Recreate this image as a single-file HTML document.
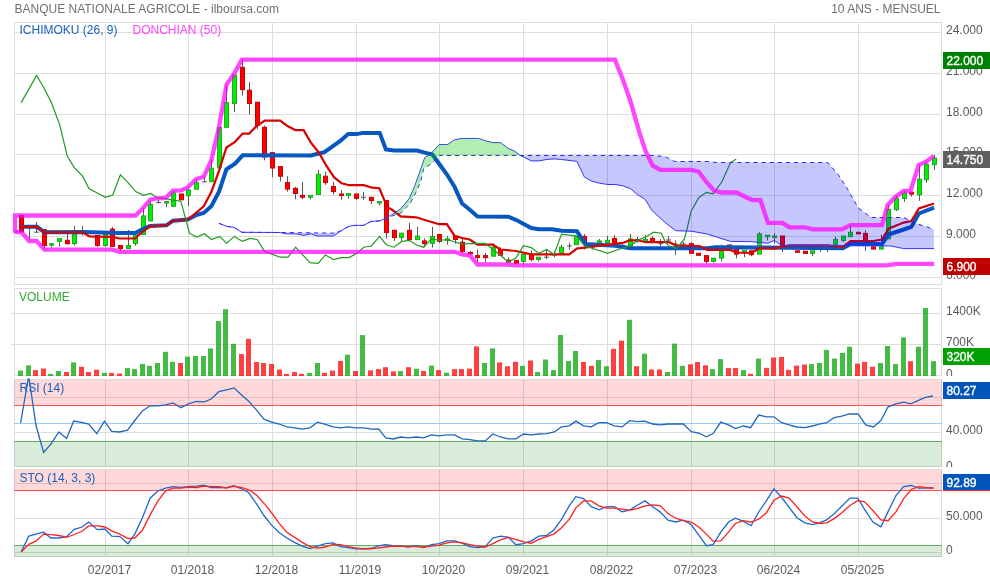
<!DOCTYPE html><html><head><meta charset="utf-8"><style>
html,body{margin:0;padding:0;background:#fff;width:990px;height:580px;overflow:hidden}
svg{display:block;will-change:transform}
text{font-family:"Liberation Sans",sans-serif;font-size:12px}
</style></head><body>
<svg width="990" height="580" viewBox="0 0 990 580">
<text x="14.5" y="13" fill="#707070">BANQUE NATIONALE AGRICOLE - ilboursa.com</text>
<text x="940.5" y="13" fill="#707070" text-anchor="end">10 ANS - MENSUEL</text>
<defs>
<clipPath id="cm"><rect x="13" y="23" width="928" height="261"/></clipPath>
<clipPath id="cv"><rect x="15" y="289" width="926" height="87"/></clipPath>
<clipPath id="cr"><rect x="15" y="378" width="926" height="88"/></clipPath>
<clipPath id="cs"><rect x="15" y="470" width="926" height="86"/></clipPath>
</defs>
<line x1="14" y1="32.5" x2="942" y2="32.5" stroke="#dddddd" stroke-width="1"/><line x1="14" y1="73.5" x2="942" y2="73.5" stroke="#dddddd" stroke-width="1"/><line x1="14" y1="114.5" x2="942" y2="114.5" stroke="#dddddd" stroke-width="1"/><line x1="14" y1="154.5" x2="942" y2="154.5" stroke="#dddddd" stroke-width="1"/><line x1="14" y1="195.5" x2="942" y2="195.5" stroke="#dddddd" stroke-width="1"/><line x1="14" y1="236.5" x2="942" y2="236.5" stroke="#dddddd" stroke-width="1"/><line x1="14" y1="277.5" x2="942" y2="277.5" stroke="#dddddd" stroke-width="1"/><line x1="105.5" y1="22" x2="105.5" y2="285" stroke="#dddddd" stroke-width="1"/><line x1="188.5" y1="22" x2="188.5" y2="285" stroke="#dddddd" stroke-width="1"/><line x1="272.5" y1="22" x2="272.5" y2="285" stroke="#dddddd" stroke-width="1"/><line x1="356.5" y1="22" x2="356.5" y2="285" stroke="#dddddd" stroke-width="1"/><line x1="439.5" y1="22" x2="439.5" y2="285" stroke="#dddddd" stroke-width="1"/><line x1="523.5" y1="22" x2="523.5" y2="285" stroke="#dddddd" stroke-width="1"/><line x1="607.5" y1="22" x2="607.5" y2="285" stroke="#dddddd" stroke-width="1"/><line x1="691.5" y1="22" x2="691.5" y2="285" stroke="#dddddd" stroke-width="1"/><line x1="774.5" y1="22" x2="774.5" y2="285" stroke="#dddddd" stroke-width="1"/><line x1="858.5" y1="22" x2="858.5" y2="285" stroke="#dddddd" stroke-width="1"/>
<rect x="14.5" y="22.5" width="927" height="262" fill="none" stroke="#dddddd" stroke-width="1"/>
<g clip-path="url(#cm)">
<line x1="21.5" y1="215.6" x2="21.5" y2="232.0" stroke="#555" stroke-width="1"/>
<rect x="19.5" y="215.6" width="4" height="16.4" fill="#ff0000" stroke="#cc0000" stroke-width="1"/>
<line x1="29.5" y1="225.3" x2="29.5" y2="239.5" stroke="#555" stroke-width="1"/>
<line x1="27.0" y1="226.0" x2="32.0" y2="226.0" stroke="#555" stroke-width="1"/>
<line x1="36.5" y1="222.2" x2="36.5" y2="232.4" stroke="#555" stroke-width="1"/>
<line x1="34.0" y1="232.2" x2="39.0" y2="232.2" stroke="#555" stroke-width="1"/>
<line x1="44.5" y1="229.6" x2="44.5" y2="248.5" stroke="#555" stroke-width="1"/>
<rect x="42.5" y="229.6" width="4" height="15.9" fill="#ff0000" stroke="#cc0000" stroke-width="1"/>
<line x1="51.5" y1="243.7" x2="51.5" y2="247.6" stroke="#555" stroke-width="1"/>
<rect x="49.5" y="243.7" width="4" height="1.5" fill="#00ee00" stroke="#22aa22" stroke-width="1"/>
<line x1="59.5" y1="238.6" x2="59.5" y2="246.6" stroke="#555" stroke-width="1"/>
<rect x="57.5" y="238.6" width="4" height="2.8" fill="#00ee00" stroke="#22aa22" stroke-width="1"/>
<line x1="67.5" y1="234.1" x2="67.5" y2="244.7" stroke="#555" stroke-width="1"/>
<rect x="65.5" y="240.3" width="4" height="3.4" fill="#ff0000" stroke="#cc0000" stroke-width="1"/>
<line x1="74.5" y1="225.9" x2="74.5" y2="245.5" stroke="#555" stroke-width="1"/>
<rect x="72.5" y="234.1" width="4" height="9.5" fill="#00ee00" stroke="#22aa22" stroke-width="1"/>
<line x1="82.5" y1="225.9" x2="82.5" y2="235.5" stroke="#555" stroke-width="1"/>
<line x1="80.0" y1="232.0" x2="85.0" y2="232.0" stroke="#555" stroke-width="1"/>
<line x1="97.5" y1="235.5" x2="97.5" y2="246.8" stroke="#555" stroke-width="1"/>
<rect x="95.5" y="235.5" width="4" height="10.0" fill="#ff0000" stroke="#cc0000" stroke-width="1"/>
<line x1="105.5" y1="234.5" x2="105.5" y2="246.8" stroke="#555" stroke-width="1"/>
<rect x="103.5" y="234.5" width="4" height="11.0" fill="#00ee00" stroke="#22aa22" stroke-width="1"/>
<line x1="112.5" y1="226.8" x2="112.5" y2="246.4" stroke="#555" stroke-width="1"/>
<rect x="110.5" y="229.1" width="4" height="17.3" fill="#ff0000" stroke="#cc0000" stroke-width="1"/>
<line x1="120.5" y1="245.5" x2="120.5" y2="250.5" stroke="#555" stroke-width="1"/>
<rect x="118.5" y="245.5" width="4" height="3.1" fill="#ff0000" stroke="#cc0000" stroke-width="1"/>
<line x1="128.5" y1="230.0" x2="128.5" y2="248.6" stroke="#555" stroke-width="1"/>
<rect x="126.5" y="245.5" width="4" height="3.1" fill="#00ee00" stroke="#22aa22" stroke-width="1"/>
<line x1="135.5" y1="235.0" x2="135.5" y2="245.5" stroke="#555" stroke-width="1"/>
<rect x="133.5" y="235.0" width="4" height="8.6" fill="#00ee00" stroke="#22aa22" stroke-width="1"/>
<line x1="143.5" y1="208.2" x2="143.5" y2="234.5" stroke="#555" stroke-width="1"/>
<rect x="141.5" y="215.9" width="4" height="18.6" fill="#00ee00" stroke="#22aa22" stroke-width="1"/>
<line x1="150.5" y1="200.6" x2="150.5" y2="221.0" stroke="#555" stroke-width="1"/>
<rect x="148.5" y="204.4" width="4" height="16.6" fill="#00ee00" stroke="#22aa22" stroke-width="1"/>
<line x1="158.5" y1="200.0" x2="158.5" y2="203.4" stroke="#555" stroke-width="1"/>
<line x1="156.0" y1="202.5" x2="161.0" y2="202.5" stroke="#555" stroke-width="1"/>
<line x1="166.5" y1="201.5" x2="166.5" y2="207.3" stroke="#555" stroke-width="1"/>
<rect x="164.5" y="201.5" width="4" height="1.5" fill="#00ee00" stroke="#22aa22" stroke-width="1"/>
<line x1="173.5" y1="190.6" x2="173.5" y2="206.3" stroke="#555" stroke-width="1"/>
<rect x="171.5" y="192.9" width="4" height="13.4" fill="#00ee00" stroke="#22aa22" stroke-width="1"/>
<line x1="181.5" y1="194.0" x2="181.5" y2="199.8" stroke="#555" stroke-width="1"/>
<rect x="179.5" y="194.0" width="4" height="5.8" fill="#ff0000" stroke="#cc0000" stroke-width="1"/>
<line x1="188.5" y1="188.7" x2="188.5" y2="206.3" stroke="#555" stroke-width="1"/>
<rect x="186.5" y="190.1" width="4" height="5.7" fill="#00ee00" stroke="#22aa22" stroke-width="1"/>
<line x1="196.5" y1="179.7" x2="196.5" y2="189.2" stroke="#555" stroke-width="1"/>
<rect x="194.5" y="182.6" width="4" height="6.6" fill="#00ee00" stroke="#22aa22" stroke-width="1"/>
<line x1="204.5" y1="176.9" x2="204.5" y2="181.8" stroke="#555" stroke-width="1"/>
<line x1="202.0" y1="181.8" x2="207.0" y2="181.8" stroke="#555" stroke-width="1"/>
<line x1="211.5" y1="158.9" x2="211.5" y2="181.6" stroke="#555" stroke-width="1"/>
<rect x="209.5" y="168.3" width="4" height="13.3" fill="#00ee00" stroke="#22aa22" stroke-width="1"/>
<line x1="219.5" y1="127.5" x2="219.5" y2="172.1" stroke="#555" stroke-width="1"/>
<rect x="217.5" y="127.5" width="4" height="40.3" fill="#00ee00" stroke="#22aa22" stroke-width="1"/>
<line x1="226.5" y1="85.3" x2="226.5" y2="127.3" stroke="#555" stroke-width="1"/>
<rect x="224.5" y="102.6" width="4" height="24.7" fill="#00ee00" stroke="#22aa22" stroke-width="1"/>
<line x1="234.5" y1="75.1" x2="234.5" y2="111.8" stroke="#555" stroke-width="1"/>
<rect x="232.5" y="75.1" width="4" height="28.4" fill="#00ee00" stroke="#22aa22" stroke-width="1"/>
<line x1="242.5" y1="59.5" x2="242.5" y2="95.5" stroke="#555" stroke-width="1"/>
<rect x="240.5" y="67.3" width="4" height="22.4" fill="#ff0000" stroke="#cc0000" stroke-width="1"/>
<line x1="249.5" y1="82.2" x2="249.5" y2="114.5" stroke="#555" stroke-width="1"/>
<rect x="247.5" y="90.2" width="4" height="13.3" fill="#ff0000" stroke="#cc0000" stroke-width="1"/>
<line x1="257.5" y1="102.2" x2="257.5" y2="129.2" stroke="#555" stroke-width="1"/>
<rect x="255.5" y="102.2" width="4" height="23.2" fill="#ff0000" stroke="#cc0000" stroke-width="1"/>
<line x1="264.5" y1="125.6" x2="264.5" y2="160.3" stroke="#555" stroke-width="1"/>
<rect x="262.5" y="127.3" width="4" height="29.7" fill="#ff0000" stroke="#cc0000" stroke-width="1"/>
<line x1="272.5" y1="152.6" x2="272.5" y2="177.2" stroke="#555" stroke-width="1"/>
<rect x="270.5" y="152.6" width="4" height="15.4" fill="#ff0000" stroke="#cc0000" stroke-width="1"/>
<line x1="280.5" y1="166.6" x2="280.5" y2="181.4" stroke="#555" stroke-width="1"/>
<rect x="278.5" y="166.6" width="4" height="9.6" fill="#ff0000" stroke="#cc0000" stroke-width="1"/>
<line x1="287.5" y1="176.2" x2="287.5" y2="191.6" stroke="#555" stroke-width="1"/>
<rect x="285.5" y="182.6" width="4" height="6.5" fill="#ff0000" stroke="#cc0000" stroke-width="1"/>
<line x1="295.5" y1="186.8" x2="295.5" y2="199.3" stroke="#555" stroke-width="1"/>
<rect x="293.5" y="188.3" width="4" height="5.2" fill="#ff0000" stroke="#cc0000" stroke-width="1"/>
<line x1="302.5" y1="182.0" x2="302.5" y2="199.3" stroke="#555" stroke-width="1"/>
<rect x="300.5" y="195.4" width="4" height="1.9" fill="#ff0000" stroke="#cc0000" stroke-width="1"/>
<line x1="310.5" y1="195.4" x2="310.5" y2="199.3" stroke="#555" stroke-width="1"/>
<rect x="308.5" y="195.4" width="4" height="1.9" fill="#00ee00" stroke="#22aa22" stroke-width="1"/>
<line x1="318.5" y1="169.9" x2="318.5" y2="194.5" stroke="#555" stroke-width="1"/>
<rect x="316.5" y="174.3" width="4" height="20.2" fill="#00ee00" stroke="#22aa22" stroke-width="1"/>
<line x1="325.5" y1="171.8" x2="325.5" y2="184.9" stroke="#555" stroke-width="1"/>
<rect x="323.5" y="176.2" width="4" height="6.4" fill="#ff0000" stroke="#cc0000" stroke-width="1"/>
<line x1="333.5" y1="182.0" x2="333.5" y2="194.5" stroke="#555" stroke-width="1"/>
<rect x="331.5" y="186.4" width="4" height="5.2" fill="#ff0000" stroke="#cc0000" stroke-width="1"/>
<line x1="341.5" y1="190.2" x2="341.5" y2="199.8" stroke="#555" stroke-width="1"/>
<rect x="339.5" y="194.0" width="4" height="1.6" fill="#ff0000" stroke="#cc0000" stroke-width="1"/>
<line x1="348.5" y1="193.5" x2="348.5" y2="198.7" stroke="#555" stroke-width="1"/>
<rect x="346.5" y="193.5" width="4" height="1.9" fill="#00ee00" stroke="#22aa22" stroke-width="1"/>
<line x1="356.5" y1="194.0" x2="356.5" y2="200.2" stroke="#555" stroke-width="1"/>
<rect x="354.5" y="194.0" width="4" height="4.3" fill="#ff0000" stroke="#cc0000" stroke-width="1"/>
<line x1="363.5" y1="192.0" x2="363.5" y2="199.8" stroke="#555" stroke-width="1"/>
<line x1="361.0" y1="197.3" x2="366.0" y2="197.3" stroke="#555" stroke-width="1"/>
<line x1="371.5" y1="197.3" x2="371.5" y2="204.0" stroke="#555" stroke-width="1"/>
<rect x="369.5" y="197.3" width="4" height="3.3" fill="#ff0000" stroke="#cc0000" stroke-width="1"/>
<line x1="379.5" y1="201.0" x2="379.5" y2="205.5" stroke="#555" stroke-width="1"/>
<rect x="377.5" y="201.5" width="4" height="1.5" fill="#00ee00" stroke="#22aa22" stroke-width="1"/>
<line x1="386.5" y1="200.6" x2="386.5" y2="238.4" stroke="#555" stroke-width="1"/>
<rect x="384.5" y="200.6" width="4" height="32.0" fill="#ff0000" stroke="#cc0000" stroke-width="1"/>
<line x1="394.5" y1="230.3" x2="394.5" y2="240.9" stroke="#555" stroke-width="1"/>
<rect x="392.5" y="230.3" width="4" height="7.3" fill="#ff0000" stroke="#cc0000" stroke-width="1"/>
<line x1="401.5" y1="233.2" x2="401.5" y2="240.9" stroke="#555" stroke-width="1"/>
<rect x="399.5" y="233.2" width="4" height="4.4" fill="#00ee00" stroke="#22aa22" stroke-width="1"/>
<line x1="409.5" y1="223.0" x2="409.5" y2="241.4" stroke="#555" stroke-width="1"/>
<rect x="407.5" y="230.3" width="4" height="9.2" fill="#ff0000" stroke="#cc0000" stroke-width="1"/>
<line x1="417.5" y1="226.9" x2="417.5" y2="239.5" stroke="#555" stroke-width="1"/>
<rect x="415.5" y="236.1" width="4" height="3.4" fill="#00ee00" stroke="#22aa22" stroke-width="1"/>
<line x1="424.5" y1="238.4" x2="424.5" y2="245.7" stroke="#555" stroke-width="1"/>
<rect x="422.5" y="240.9" width="4" height="2.8" fill="#ff0000" stroke="#cc0000" stroke-width="1"/>
<line x1="432.5" y1="226.9" x2="432.5" y2="247.6" stroke="#555" stroke-width="1"/>
<rect x="430.5" y="236.4" width="4" height="7.0" fill="#00ee00" stroke="#22aa22" stroke-width="1"/>
<line x1="439.5" y1="234.5" x2="439.5" y2="242.8" stroke="#555" stroke-width="1"/>
<rect x="437.5" y="234.5" width="4" height="6.9" fill="#ff0000" stroke="#cc0000" stroke-width="1"/>
<line x1="447.5" y1="236.1" x2="447.5" y2="244.7" stroke="#555" stroke-width="1"/>
<rect x="445.5" y="238.9" width="4" height="1.6" fill="#00ee00" stroke="#22aa22" stroke-width="1"/>
<line x1="455.5" y1="236.1" x2="455.5" y2="243.7" stroke="#555" stroke-width="1"/>
<rect x="453.5" y="236.1" width="4" height="3.4" fill="#ff0000" stroke="#cc0000" stroke-width="1"/>
<line x1="462.5" y1="239.0" x2="462.5" y2="253.3" stroke="#555" stroke-width="1"/>
<rect x="460.5" y="242.2" width="4" height="9.2" fill="#ff0000" stroke="#cc0000" stroke-width="1"/>
<line x1="470.5" y1="251.0" x2="470.5" y2="254.0" stroke="#555" stroke-width="1"/>
<rect x="468.5" y="252.5" width="4" height="1.5" fill="#ff0000" stroke="#cc0000" stroke-width="1"/>
<line x1="477.5" y1="249.5" x2="477.5" y2="262.9" stroke="#555" stroke-width="1"/>
<rect x="475.5" y="255.6" width="4" height="2.0" fill="#ff0000" stroke="#cc0000" stroke-width="1"/>
<line x1="485.5" y1="253.0" x2="485.5" y2="262.6" stroke="#555" stroke-width="1"/>
<rect x="483.5" y="255.6" width="4" height="2.0" fill="#ff0000" stroke="#cc0000" stroke-width="1"/>
<line x1="493.5" y1="243.4" x2="493.5" y2="256.2" stroke="#555" stroke-width="1"/>
<rect x="491.5" y="247.2" width="4" height="9.0" fill="#00ee00" stroke="#22aa22" stroke-width="1"/>
<line x1="500.5" y1="247.2" x2="500.5" y2="255.3" stroke="#555" stroke-width="1"/>
<rect x="498.5" y="249.5" width="4" height="5.8" fill="#ff0000" stroke="#cc0000" stroke-width="1"/>
<line x1="508.5" y1="257.2" x2="508.5" y2="262.0" stroke="#555" stroke-width="1"/>
<rect x="506.5" y="260.1" width="4" height="1.9" fill="#ff0000" stroke="#cc0000" stroke-width="1"/>
<line x1="516.5" y1="260.6" x2="516.5" y2="263.3" stroke="#555" stroke-width="1"/>
<rect x="514.5" y="260.6" width="4" height="2.7" fill="#ff0000" stroke="#cc0000" stroke-width="1"/>
<line x1="523.5" y1="254.3" x2="523.5" y2="263.9" stroke="#555" stroke-width="1"/>
<rect x="521.5" y="254.3" width="4" height="7.1" fill="#00ee00" stroke="#22aa22" stroke-width="1"/>
<line x1="531.5" y1="250.5" x2="531.5" y2="261.4" stroke="#555" stroke-width="1"/>
<rect x="529.5" y="255.3" width="4" height="4.2" fill="#ff0000" stroke="#cc0000" stroke-width="1"/>
<line x1="538.5" y1="257.2" x2="538.5" y2="261.4" stroke="#555" stroke-width="1"/>
<rect x="536.5" y="257.2" width="4" height="2.3" fill="#00ee00" stroke="#22aa22" stroke-width="1"/>
<line x1="546.5" y1="249.5" x2="546.5" y2="259.1" stroke="#555" stroke-width="1"/>
<line x1="544.0" y1="257.2" x2="549.0" y2="257.2" stroke="#555" stroke-width="1"/>
<line x1="554.5" y1="251.4" x2="554.5" y2="257.2" stroke="#555" stroke-width="1"/>
<line x1="552.0" y1="255.0" x2="557.0" y2="255.0" stroke="#555" stroke-width="1"/>
<line x1="561.5" y1="244.7" x2="561.5" y2="253.3" stroke="#555" stroke-width="1"/>
<rect x="559.5" y="247.2" width="4" height="6.1" fill="#00ee00" stroke="#22aa22" stroke-width="1"/>
<line x1="569.5" y1="242.8" x2="569.5" y2="249.5" stroke="#555" stroke-width="1"/>
<line x1="567.0" y1="246.0" x2="572.0" y2="246.0" stroke="#555" stroke-width="1"/>
<line x1="576.5" y1="236.4" x2="576.5" y2="244.7" stroke="#555" stroke-width="1"/>
<rect x="574.5" y="236.4" width="4" height="8.3" fill="#00ee00" stroke="#22aa22" stroke-width="1"/>
<line x1="584.5" y1="234.1" x2="584.5" y2="249.5" stroke="#555" stroke-width="1"/>
<rect x="582.5" y="236.4" width="4" height="5.8" fill="#ff0000" stroke="#cc0000" stroke-width="1"/>
<line x1="592.5" y1="246.0" x2="592.5" y2="249.5" stroke="#555" stroke-width="1"/>
<line x1="590.0" y1="247.0" x2="595.0" y2="247.0" stroke="#555" stroke-width="1"/>
<line x1="599.5" y1="239.0" x2="599.5" y2="242.8" stroke="#555" stroke-width="1"/>
<rect x="597.5" y="240.9" width="4" height="1.9" fill="#00ee00" stroke="#22aa22" stroke-width="1"/>
<line x1="607.5" y1="236.1" x2="607.5" y2="242.8" stroke="#555" stroke-width="1"/>
<rect x="605.5" y="240.3" width="4" height="2.5" fill="#00ee00" stroke="#22aa22" stroke-width="1"/>
<line x1="614.5" y1="235.1" x2="614.5" y2="245.7" stroke="#555" stroke-width="1"/>
<rect x="612.5" y="238.4" width="4" height="7.3" fill="#ff0000" stroke="#cc0000" stroke-width="1"/>
<line x1="622.5" y1="243.0" x2="622.5" y2="247.0" stroke="#555" stroke-width="1"/>
<line x1="620.0" y1="245.7" x2="625.0" y2="245.7" stroke="#555" stroke-width="1"/>
<line x1="630.5" y1="234.1" x2="630.5" y2="246.0" stroke="#555" stroke-width="1"/>
<rect x="628.5" y="238.9" width="4" height="7.1" fill="#00ee00" stroke="#22aa22" stroke-width="1"/>
<line x1="637.5" y1="237.0" x2="637.5" y2="242.8" stroke="#555" stroke-width="1"/>
<line x1="635.0" y1="239.5" x2="640.0" y2="239.5" stroke="#555" stroke-width="1"/>
<line x1="645.5" y1="235.1" x2="645.5" y2="240.9" stroke="#555" stroke-width="1"/>
<rect x="643.5" y="239.5" width="4" height="1.5" fill="#00ee00" stroke="#22aa22" stroke-width="1"/>
<line x1="652.5" y1="236.1" x2="652.5" y2="242.2" stroke="#555" stroke-width="1"/>
<rect x="650.5" y="238.4" width="4" height="3.8" fill="#ff0000" stroke="#cc0000" stroke-width="1"/>
<line x1="660.5" y1="239.0" x2="660.5" y2="246.6" stroke="#555" stroke-width="1"/>
<line x1="658.0" y1="243.7" x2="663.0" y2="243.7" stroke="#555" stroke-width="1"/>
<line x1="668.5" y1="236.1" x2="668.5" y2="242.8" stroke="#555" stroke-width="1"/>
<line x1="666.0" y1="240.0" x2="671.0" y2="240.0" stroke="#555" stroke-width="1"/>
<line x1="675.5" y1="240.3" x2="675.5" y2="254.9" stroke="#555" stroke-width="1"/>
<line x1="673.0" y1="244.1" x2="678.0" y2="244.1" stroke="#555" stroke-width="1"/>
<line x1="683.5" y1="242.0" x2="683.5" y2="246.0" stroke="#555" stroke-width="1"/>
<line x1="681.0" y1="244.1" x2="686.0" y2="244.1" stroke="#555" stroke-width="1"/>
<line x1="691.5" y1="242.2" x2="691.5" y2="253.3" stroke="#555" stroke-width="1"/>
<rect x="689.5" y="243.7" width="4" height="9.6" fill="#ff0000" stroke="#cc0000" stroke-width="1"/>
<line x1="698.5" y1="253.3" x2="698.5" y2="255.3" stroke="#555" stroke-width="1"/>
<rect x="696.5" y="253.3" width="4" height="2.0" fill="#ff0000" stroke="#cc0000" stroke-width="1"/>
<line x1="706.5" y1="255.6" x2="706.5" y2="263.3" stroke="#555" stroke-width="1"/>
<rect x="704.5" y="255.6" width="4" height="5.8" fill="#ff0000" stroke="#cc0000" stroke-width="1"/>
<line x1="713.5" y1="258.1" x2="713.5" y2="262.6" stroke="#555" stroke-width="1"/>
<rect x="711.5" y="258.1" width="4" height="3.3" fill="#00ee00" stroke="#22aa22" stroke-width="1"/>
<line x1="721.5" y1="244.7" x2="721.5" y2="261.4" stroke="#555" stroke-width="1"/>
<rect x="719.5" y="251.4" width="4" height="6.7" fill="#00ee00" stroke="#22aa22" stroke-width="1"/>
<line x1="729.5" y1="245.0" x2="729.5" y2="248.0" stroke="#555" stroke-width="1"/>
<rect x="727.5" y="245.0" width="4" height="3.0" fill="#ff0000" stroke="#cc0000" stroke-width="1"/>
<line x1="736.5" y1="248.6" x2="736.5" y2="258.4" stroke="#555" stroke-width="1"/>
<rect x="734.5" y="248.6" width="4" height="5.5" fill="#ff0000" stroke="#cc0000" stroke-width="1"/>
<line x1="744.5" y1="250.4" x2="744.5" y2="257.3" stroke="#555" stroke-width="1"/>
<rect x="742.5" y="250.4" width="4" height="2.6" fill="#00ee00" stroke="#22aa22" stroke-width="1"/>
<line x1="751.5" y1="250.8" x2="751.5" y2="256.2" stroke="#555" stroke-width="1"/>
<rect x="749.5" y="250.8" width="4" height="3.9" fill="#ff0000" stroke="#cc0000" stroke-width="1"/>
<line x1="759.5" y1="232.3" x2="759.5" y2="254.1" stroke="#555" stroke-width="1"/>
<rect x="757.5" y="233.9" width="4" height="20.2" fill="#00ee00" stroke="#22aa22" stroke-width="1"/>
<line x1="767.5" y1="235.2" x2="767.5" y2="240.4" stroke="#555" stroke-width="1"/>
<rect x="765.5" y="235.2" width="4" height="1.5" fill="#00ee00" stroke="#22aa22" stroke-width="1"/>
<line x1="774.5" y1="233.4" x2="774.5" y2="243.9" stroke="#555" stroke-width="1"/>
<rect x="772.5" y="236.0" width="4" height="1.5" fill="#00ee00" stroke="#22aa22" stroke-width="1"/>
<line x1="782.5" y1="236.0" x2="782.5" y2="251.9" stroke="#555" stroke-width="1"/>
<rect x="780.5" y="236.0" width="4" height="9.4" fill="#ff0000" stroke="#cc0000" stroke-width="1"/>
<line x1="789.5" y1="245.4" x2="789.5" y2="245.4" stroke="#555" stroke-width="1"/>
<line x1="787.0" y1="245.4" x2="792.0" y2="245.4" stroke="#555" stroke-width="1"/>
<line x1="797.5" y1="250.8" x2="797.5" y2="251.9" stroke="#555" stroke-width="1"/>
<rect x="795.5" y="250.8" width="4" height="1.5" fill="#ff0000" stroke="#cc0000" stroke-width="1"/>
<line x1="805.5" y1="251.2" x2="805.5" y2="253.4" stroke="#555" stroke-width="1"/>
<rect x="803.5" y="251.2" width="4" height="2.2" fill="#ff0000" stroke="#cc0000" stroke-width="1"/>
<line x1="812.5" y1="250.8" x2="812.5" y2="256.2" stroke="#555" stroke-width="1"/>
<rect x="810.5" y="250.8" width="4" height="2.6" fill="#00ee00" stroke="#22aa22" stroke-width="1"/>
<line x1="820.5" y1="246.0" x2="820.5" y2="251.9" stroke="#555" stroke-width="1"/>
<line x1="818.0" y1="249.1" x2="823.0" y2="249.1" stroke="#555" stroke-width="1"/>
<line x1="827.5" y1="246.9" x2="827.5" y2="251.9" stroke="#555" stroke-width="1"/>
<line x1="825.0" y1="246.9" x2="830.0" y2="246.9" stroke="#555" stroke-width="1"/>
<line x1="835.5" y1="236.7" x2="835.5" y2="244.3" stroke="#555" stroke-width="1"/>
<rect x="833.5" y="239.5" width="4" height="4.8" fill="#00ee00" stroke="#22aa22" stroke-width="1"/>
<line x1="843.5" y1="236.0" x2="843.5" y2="242.1" stroke="#555" stroke-width="1"/>
<rect x="841.5" y="236.0" width="4" height="4.4" fill="#00ee00" stroke="#22aa22" stroke-width="1"/>
<line x1="850.5" y1="225.8" x2="850.5" y2="236.7" stroke="#555" stroke-width="1"/>
<rect x="848.5" y="232.3" width="4" height="4.4" fill="#00ee00" stroke="#22aa22" stroke-width="1"/>
<line x1="858.5" y1="232.3" x2="858.5" y2="233.9" stroke="#555" stroke-width="1"/>
<rect x="856.5" y="232.3" width="4" height="1.6" fill="#ff0000" stroke="#cc0000" stroke-width="1"/>
<line x1="865.5" y1="230.2" x2="865.5" y2="250.8" stroke="#555" stroke-width="1"/>
<rect x="863.5" y="233.4" width="4" height="8.7" fill="#ff0000" stroke="#cc0000" stroke-width="1"/>
<line x1="873.5" y1="246.9" x2="873.5" y2="249.1" stroke="#555" stroke-width="1"/>
<rect x="871.5" y="246.9" width="4" height="2.2" fill="#ff0000" stroke="#cc0000" stroke-width="1"/>
<line x1="881.5" y1="234.5" x2="881.5" y2="249.1" stroke="#555" stroke-width="1"/>
<rect x="879.5" y="246.9" width="4" height="2.2" fill="#00ee00" stroke="#22aa22" stroke-width="1"/>
<line x1="888.5" y1="205.0" x2="888.5" y2="238.9" stroke="#555" stroke-width="1"/>
<rect x="886.5" y="209.3" width="4" height="29.6" fill="#00ee00" stroke="#22aa22" stroke-width="1"/>
<line x1="896.5" y1="195.6" x2="896.5" y2="211.0" stroke="#555" stroke-width="1"/>
<rect x="894.5" y="198.4" width="4" height="11.2" fill="#00ee00" stroke="#22aa22" stroke-width="1"/>
<line x1="904.5" y1="191.0" x2="904.5" y2="201.8" stroke="#555" stroke-width="1"/>
<rect x="902.5" y="193.2" width="4" height="5.2" fill="#00ee00" stroke="#22aa22" stroke-width="1"/>
<line x1="911.5" y1="192.2" x2="911.5" y2="196.6" stroke="#555" stroke-width="1"/>
<rect x="909.5" y="192.2" width="4" height="1.9" fill="#ff0000" stroke="#cc0000" stroke-width="1"/>
<line x1="919.5" y1="164.8" x2="919.5" y2="200.8" stroke="#555" stroke-width="1"/>
<rect x="917.5" y="179.2" width="4" height="15.6" fill="#00ee00" stroke="#22aa22" stroke-width="1"/>
<line x1="926.5" y1="162.0" x2="926.5" y2="182.8" stroke="#555" stroke-width="1"/>
<rect x="924.5" y="164.2" width="4" height="15.6" fill="#00ee00" stroke="#22aa22" stroke-width="1"/>
<line x1="934.5" y1="155.0" x2="934.5" y2="169.7" stroke="#555" stroke-width="1"/>
<rect x="932.5" y="158.0" width="4" height="6.6" fill="#00ee00" stroke="#22aa22" stroke-width="1"/>
<polyline points="21.5,226.8 36.9,226.8 44.5,232.2 82.3,232.1 120.0,233.0 135.5,233.0 141.8,229.5 150.0,225.9 166.4,225.3 173.1,220.7 187.6,219.5 197.1,214.8 203.7,212.9 211.3,206.3 218.9,192.0 226.4,169.3 235.0,163.6 242.6,155.3 310.9,155.5 324.4,152.2 340.3,140.9 348.1,134.1 356.4,134.1 363.1,132.9 379.7,132.9 385.9,149.4 394.1,150.5 417.0,150.5 424.7,152.6 432.4,154.5 439.1,163.7 446.8,174.3 454.5,186.8 462.1,203.5 469.8,209.8 477.5,216.5 508.2,216.7 515.9,219.8 531.2,228.0 538.9,229.3 552.3,229.3 561.5,230.7 576.9,231.3 585.5,244.1 615.3,245.7 630.6,248.2 707.4,248.2 715.1,247.2 842.9,248.2 850.5,243.9 882.0,243.9 888.5,234.5 903.7,229.5 911.3,226.9 918.9,213.5 934.1,207.7" fill="none" stroke="#0757c2" stroke-width="4" stroke-linejoin="miter" stroke-miterlimit="3"/>
<polyline points="21.5,226.8 36.9,226.8 44.5,232.3 82.3,232.3 89.5,236.4 97.3,236.6 112.3,236.8 119.5,238.5 135.0,238.5 141.8,232.3 150.0,226.4 166.4,225.1 173.1,220.7 187.6,219.5 196.1,212.9 203.7,206.3 211.3,192.0 218.9,171.2 226.4,147.5 235.0,141.8 242.6,133.6 249.2,133.6 256.8,125.7 264.9,120.6 280.2,120.6 287.9,126.3 295.6,130.2 303.6,130.2 310.9,142.6 318.6,152.2 326.3,165.7 334.0,177.2 341.6,183.3 349.3,185.2 363.7,185.2 372.3,187.7 379.4,188.3 387.3,207.3 392.1,209.8 400.7,216.3 416.1,217.3 425.7,220.3 439.1,224.2 446.8,224.2 454.5,235.7 462.1,238.0 469.8,239.5 477.5,244.7 492.8,244.7 500.5,249.5 515.9,251.0 531.2,254.3 569.2,254.3 576.9,248.5 584.5,247.6 599.9,245.7 622.9,242.8 629.7,240.3 637.3,240.3 646.0,242.2 669.0,242.2 676.7,245.7 699.7,246.0 707.4,249.9 730.4,249.9 736.5,252.5 751.7,253.0 759.3,248.2 774.5,248.6 782.1,246.9 789.7,245.4 827.7,245.4 842.9,246.9 850.5,241.0 873.3,241.0 882.0,239.5 888.5,228.7 903.7,222.6 911.3,221.1 918.9,208.5 934.1,203.5" fill="none" stroke="#d80000" stroke-width="2.2" stroke-linejoin="miter" stroke-miterlimit="3"/>
<polyline points="21.2,102.6 36.5,75.4 44.0,88.0 51.6,103.0 59.9,125.4 67.2,156.0 74.3,167.6 82.6,176.2 89.1,188.7 97.3,193.0 105.4,197.3 112.7,195.0 120.4,174.9 128.0,182.6 135.7,191.6 143.4,195.4 150.5,193.5 157.8,197.9 165.5,198.7 173.1,200.2 180.8,201.2 189.5,233.2 196.7,237.0 204.4,233.8 211.5,239.5 219.8,236.4 226.5,243.2 234.5,236.4 242.2,241.4 249.9,238.4 257.2,239.5 264.5,251.4 280.2,257.2 287.9,257.2 295.6,247.2 310.0,262.6 318.2,263.3 325.3,254.9 333.6,259.5 341.6,257.6 348.9,257.6 357.0,253.3 363.7,247.2 371.4,246.0 379.6,236.4 386.3,244.7 394.0,247.2 401.7,241.4 409.3,240.3 417.0,245.3 423.7,247.2 431.4,238.9 440.1,240.3 446.8,239.5 454.5,241.8 462.1,244.1 469.8,243.7 485.2,243.4 492.8,249.5 500.5,255.3 508.2,262.0 515.9,258.1 523.5,245.7 531.2,247.6 538.9,253.3 546.6,249.5 554.0,254.5 561.5,234.1 576.9,236.1 584.5,245.7 607.6,253.3 615.3,250.5 630.6,245.7 638.3,239.9 646.0,237.0 653.6,232.2 661.3,233.2 665.2,241.8 669.0,246.0 676.7,248.5 684.4,239.0 687.2,228.4 691.1,211.1 698.8,197.7 706.4,192.3 713.1,193.8 721.8,182.0 730.4,162.8 736.2,159.0" fill="none" stroke="#209a20" stroke-width="1.2" stroke-linejoin="miter" stroke-miterlimit="3"/>
<polyline points="218.9,223.3 227.4,226.5 234.1,227.4 241.8,232.3 280.6,232.5 285.6,233.9 295.5,233.9 304.0,235.3 311.0,233.9 316.7,236.0 333.6,236.0 340.7,231.1 348.5,226.4 354.9,225.4 363.4,225.4 371.1,221.4 380.3,220.7 390.7,215.5 401.0,208.8 409.3,198.4 414.5,186.5 418.6,175.2 424.7,157.6 431.4,153.2 439.1,144.5 447.7,144.5 454.5,139.8 462.1,138.4 478.4,138.4 485.2,140.7 492.8,142.6 500.5,142.6 508.2,148.4 514.9,151.3 519.7,155.1 523.5,157.0 531.2,160.9 538.9,160.9 546.6,159.5 554.3,158.9 561.5,159.5 576.9,161.4 584.5,177.2 592.2,181.4 599.9,183.3 607.6,184.5 615.3,184.5 622.9,185.8 630.6,188.7 637.3,194.5 645.0,199.3 652.0,210.5 665.2,222.6 675.7,230.7 692.0,231.3 707.4,234.1 730.4,241.4 751.7,241.7 760.4,242.6 768.0,243.2 774.5,240.4 782.1,246.0 790.8,245.4 890.7,246.0 903.7,248.6 934.1,248.6" fill="none" stroke="#3a3aff" stroke-width="1"/>
<polyline points="218.9,223.3 227.4,226.5 234.1,227.4 241.8,232.3 280.6,232.5 333.6,233.1 339.3,231.2 340.7,231.1 348.5,226.4 354.9,225.4 363.4,225.4 371.1,221.4 380.3,220.9 390.7,216.5 401.0,212.9 410.3,203.1 415.5,193.3 420.7,181.4 423.7,168.5 431.4,163.7 439.1,155.5 653.6,155.5 665.2,156.6 674.8,161.5 707.4,161.5 717.0,162.5 827.7,162.5 838.6,175.1 848.3,190.3 858.1,207.7 871.1,217.5 903.7,217.5 914.6,222.9 934.1,229.4" fill="none" stroke="#2a2aff" stroke-width="1" stroke-dasharray="4.2,3.9"/>
<polygon points="280.4,232.5 280.9,232.5 281.4,232.5 281.9,232.5 282.4,232.5 282.9,232.5 283.4,232.5 283.9,232.5 284.4,232.5 284.9,232.5 285.4,232.6 285.9,232.6 286.4,232.6 286.9,232.6 287.4,232.6 287.9,232.6 288.4,232.6 288.9,232.6 289.4,232.6 289.9,232.6 290.4,232.6 290.9,232.6 291.4,232.6 291.9,232.6 292.4,232.6 292.9,232.6 293.4,232.6 293.9,232.7 294.4,232.7 294.9,232.7 295.4,232.7 295.9,232.7 296.4,232.7 296.9,232.7 297.4,232.7 297.9,232.7 298.4,232.7 298.9,232.7 299.4,232.7 299.9,232.7 300.4,232.7 300.9,232.7 301.4,232.7 301.9,232.7 302.4,232.7 302.9,232.8 303.4,232.8 303.9,232.8 304.4,232.8 304.9,232.8 305.4,232.8 305.9,232.8 306.4,232.8 306.9,232.8 307.4,232.8 307.9,232.8 308.4,232.8 308.9,232.8 309.4,232.8 309.9,232.8 310.4,232.8 310.9,232.8 311.4,232.8 311.9,232.9 312.4,232.9 312.9,232.9 313.4,232.9 313.9,232.9 314.4,232.9 314.9,232.9 315.4,232.9 315.9,232.9 316.4,232.9 316.9,232.9 317.4,232.9 317.9,232.9 318.4,232.9 318.9,232.9 319.4,232.9 319.9,232.9 320.4,233.0 320.9,233.0 321.4,233.0 321.9,233.0 322.4,233.0 322.9,233.0 323.4,233.0 323.9,233.0 324.4,233.0 324.9,233.0 325.4,233.0 325.9,233.0 326.4,233.0 326.9,233.0 327.4,233.0 327.9,233.0 328.4,233.0 328.9,233.0 329.4,233.1 329.9,233.1 330.4,233.1 330.9,233.1 331.4,233.1 331.9,233.1 332.4,233.1 332.9,233.1 333.4,233.1 333.9,233.0 334.4,232.8 334.9,232.7 335.4,232.5 335.9,232.3 336.4,232.2 336.9,232.0 337.4,231.8 337.9,231.7 338.4,231.5 338.9,231.3 339.4,231.2 339.9,231.2 340.4,231.1 340.9,231.0 341.4,230.7 341.9,230.4 342.4,230.1 342.9,229.8 343.4,229.5 343.9,229.2 344.4,228.9 344.9,228.6 345.4,228.3 345.9,228.0 346.4,227.7 346.9,227.4 347.4,227.1 347.9,226.8 348.4,226.5 348.9,226.3 349.4,226.3 349.9,226.2 350.4,226.1 350.9,226.0 351.4,225.9 351.9,225.9 352.4,225.8 352.9,225.7 353.4,225.6 353.9,225.6 354.4,225.5 354.9,225.4 355.4,225.4 355.9,225.4 356.4,225.4 356.9,225.4 357.4,225.4 357.9,225.4 358.4,225.4 358.9,225.4 359.4,225.4 359.9,225.4 360.4,225.4 360.9,225.4 361.4,225.4 361.9,225.4 362.4,225.4 362.9,225.4 363.4,225.4 363.9,225.1 364.4,224.9 364.9,224.6 365.4,224.4 365.9,224.1 366.4,223.8 366.9,223.6 367.4,223.3 367.9,223.1 368.4,222.8 368.9,222.5 369.4,222.3 369.9,222.0 370.4,221.8 370.9,221.5 371.4,221.4 371.4,221.4 370.9,221.5 370.4,221.8 369.9,222.0 369.4,222.3 368.9,222.5 368.4,222.8 367.9,223.1 367.4,223.3 366.9,223.6 366.4,223.8 365.9,224.1 365.4,224.4 364.9,224.6 364.4,224.9 363.9,225.1 363.4,225.4 362.9,225.4 362.4,225.4 361.9,225.4 361.4,225.4 360.9,225.4 360.4,225.4 359.9,225.4 359.4,225.4 358.9,225.4 358.4,225.4 357.9,225.4 357.4,225.4 356.9,225.4 356.4,225.4 355.9,225.4 355.4,225.4 354.9,225.4 354.4,225.5 353.9,225.6 353.4,225.6 352.9,225.7 352.4,225.8 351.9,225.9 351.4,225.9 350.9,226.0 350.4,226.1 349.9,226.2 349.4,226.3 348.9,226.3 348.4,226.5 347.9,226.8 347.4,227.1 346.9,227.4 346.4,227.7 345.9,228.0 345.4,228.3 344.9,228.6 344.4,228.9 343.9,229.2 343.4,229.5 342.9,229.8 342.4,230.1 341.9,230.4 341.4,230.7 340.9,231.0 340.4,231.3 339.9,231.7 339.4,232.0 338.9,232.3 338.4,232.7 337.9,233.0 337.4,233.4 336.9,233.7 336.4,234.1 335.9,234.4 335.4,234.8 334.9,235.1 334.4,235.4 333.9,235.8 333.4,236.0 332.9,236.0 332.4,236.0 331.9,236.0 331.4,236.0 330.9,236.0 330.4,236.0 329.9,236.0 329.4,236.0 328.9,236.0 328.4,236.0 327.9,236.0 327.4,236.0 326.9,236.0 326.4,236.0 325.9,236.0 325.4,236.0 324.9,236.0 324.4,236.0 323.9,236.0 323.4,236.0 322.9,236.0 322.4,236.0 321.9,236.0 321.4,236.0 320.9,236.0 320.4,236.0 319.9,236.0 319.4,236.0 318.9,236.0 318.4,236.0 317.9,236.0 317.4,236.0 316.9,236.0 316.4,235.9 315.9,235.7 315.4,235.5 314.9,235.3 314.4,235.2 313.9,235.0 313.4,234.8 312.9,234.6 312.4,234.4 311.9,234.2 311.4,234.0 310.9,233.9 310.4,234.0 309.9,234.1 309.4,234.2 308.9,234.3 308.4,234.4 307.9,234.5 307.4,234.6 306.9,234.7 306.4,234.8 305.9,234.9 305.4,235.0 304.9,235.1 304.4,235.2 303.9,235.3 303.4,235.2 302.9,235.1 302.4,235.0 301.9,235.0 301.4,234.9 300.9,234.8 300.4,234.7 299.9,234.6 299.4,234.5 298.9,234.5 298.4,234.4 297.9,234.3 297.4,234.2 296.9,234.1 296.4,234.0 295.9,234.0 295.4,233.9 294.9,233.9 294.4,233.9 293.9,233.9 293.4,233.9 292.9,233.9 292.4,233.9 291.9,233.9 291.4,233.9 290.9,233.9 290.4,233.9 289.9,233.9 289.4,233.9 288.9,233.9 288.4,233.9 287.9,233.9 287.4,233.9 286.9,233.9 286.4,233.9 285.9,233.9 285.4,233.8 284.9,233.7 284.4,233.6 283.9,233.4 283.4,233.3 282.9,233.1 282.4,233.0 281.9,232.9 281.4,232.7 280.9,232.6 280.4,232.5" fill="rgba(0,0,255,0.22)" stroke="none"/>
<polygon points="370.9,221.5 371.4,221.4 371.9,221.3 372.4,221.3 372.9,221.3 373.4,221.2 373.9,221.2 374.4,221.1 374.9,221.1 375.4,221.1 375.9,221.0 376.4,221.0 376.9,221.0 377.4,220.9 377.9,220.9 378.4,220.8 378.9,220.8 379.4,220.8 379.9,220.7 380.4,220.7 380.9,220.4 381.4,220.2 381.9,219.9 382.4,219.7 382.9,219.4 383.4,219.2 383.9,218.9 384.4,218.7 384.9,218.4 385.4,218.2 385.9,217.9 386.4,217.7 386.9,217.4 387.4,217.2 387.9,216.9 388.4,216.7 388.9,216.4 389.4,216.2 389.9,215.9 390.4,215.7 390.9,215.4 391.4,215.0 391.9,214.7 392.4,214.4 392.9,214.1 393.4,213.7 393.9,213.4 394.4,213.1 394.9,212.8 395.4,212.4 395.9,212.1 396.4,211.8 396.9,211.5 397.4,211.1 397.9,210.8 398.4,210.5 398.9,210.2 399.4,209.8 399.9,209.5 400.4,209.2 400.9,208.9 401.4,208.3 401.9,207.7 402.4,207.0 402.9,206.4 403.4,205.8 403.9,205.2 404.4,204.5 404.9,203.9 405.4,203.3 405.9,202.7 406.4,202.0 406.9,201.4 407.4,200.8 407.9,200.2 408.4,199.5 408.9,198.9 409.4,198.2 409.9,197.0 410.4,195.9 410.9,194.7 411.4,193.6 411.9,192.5 412.4,191.3 412.9,190.2 413.4,189.0 413.9,187.9 414.4,186.7 414.9,185.4 415.4,184.0 415.9,182.6 416.4,181.3 416.9,179.9 417.4,178.5 417.9,177.1 418.4,175.8 418.9,174.3 419.4,172.9 419.9,171.4 420.4,170.0 420.9,168.6 421.4,167.1 421.9,165.7 422.4,164.2 422.9,162.8 423.4,161.4 423.9,159.9 424.4,158.5 424.9,157.5 425.4,157.1 425.9,156.8 426.4,156.5 426.9,156.2 427.4,155.8 427.9,155.5 428.4,155.2 428.9,154.8 429.4,154.5 429.9,154.2 430.4,153.9 430.9,153.5 431.4,153.2 431.9,152.6 432.4,152.1 432.9,151.5 433.4,150.9 433.9,150.4 434.4,149.8 434.9,149.2 435.4,148.7 435.9,148.1 436.4,147.6 436.9,147.0 437.4,146.4 437.9,145.9 438.4,145.3 438.9,144.7 439.4,144.5 439.9,144.5 440.4,144.5 440.9,144.5 441.4,144.5 441.9,144.5 442.4,144.5 442.9,144.5 443.4,144.5 443.9,144.5 444.4,144.5 444.9,144.5 445.4,144.5 445.9,144.5 446.4,144.5 446.9,144.5 447.4,144.5 447.9,144.4 448.4,144.0 448.9,143.7 449.4,143.3 449.9,143.0 450.4,142.6 450.9,142.3 451.4,141.9 451.9,141.6 452.4,141.3 452.9,140.9 453.4,140.6 453.9,140.2 454.4,139.9 454.9,139.7 455.4,139.6 455.9,139.5 456.4,139.5 456.9,139.4 457.4,139.3 457.9,139.2 458.4,139.1 458.9,139.0 459.4,138.9 459.9,138.8 460.4,138.7 460.9,138.6 461.4,138.5 461.9,138.4 462.4,138.4 462.9,138.4 463.4,138.4 463.9,138.4 464.4,138.4 464.9,138.4 465.4,138.4 465.9,138.4 466.4,138.4 466.9,138.4 467.4,138.4 467.9,138.4 468.4,138.4 468.9,138.4 469.4,138.4 469.9,138.4 470.4,138.4 470.9,138.4 471.4,138.4 471.9,138.4 472.4,138.4 472.9,138.4 473.4,138.4 473.9,138.4 474.4,138.4 474.9,138.4 475.4,138.4 475.9,138.4 476.4,138.4 476.9,138.4 477.4,138.4 477.9,138.4 478.4,138.4 478.9,138.6 479.4,138.7 479.9,138.9 480.4,139.1 480.9,139.2 481.4,139.4 481.9,139.6 482.4,139.8 482.9,139.9 483.4,140.1 483.9,140.3 484.4,140.4 484.9,140.6 485.4,140.8 485.9,140.9 486.4,141.0 486.9,141.1 487.4,141.2 487.9,141.4 488.4,141.5 488.9,141.6 489.4,141.8 489.9,141.9 490.4,142.0 490.9,142.1 491.4,142.2 491.9,142.4 492.4,142.5 492.9,142.6 493.4,142.6 493.9,142.6 494.4,142.6 494.9,142.6 495.4,142.6 495.9,142.6 496.4,142.6 496.9,142.6 497.4,142.6 497.9,142.6 498.4,142.6 498.9,142.6 499.4,142.6 499.9,142.6 500.4,142.6 500.9,142.9 501.4,143.3 501.9,143.7 502.4,144.0 502.9,144.4 503.4,144.8 503.9,145.2 504.4,145.5 504.9,145.9 505.4,146.3 505.9,146.7 506.4,147.0 506.9,147.4 507.4,147.8 507.9,148.2 508.4,148.5 508.9,148.7 509.4,148.9 509.9,149.1 510.4,149.4 510.9,149.6 511.4,149.8 511.9,150.0 512.4,150.2 512.9,150.4 513.4,150.7 513.9,150.9 514.4,151.1 514.9,151.3 515.4,151.7 515.9,152.1 516.4,152.5 516.9,152.9 517.4,153.3 517.9,153.7 518.4,154.1 518.9,154.5 519.4,154.9 519.9,155.2 520.4,155.4 520.9,155.5 520.9,155.7 520.4,155.5 519.9,155.5 519.4,155.5 518.9,155.5 518.4,155.5 517.9,155.5 517.4,155.5 516.9,155.5 516.4,155.5 515.9,155.5 515.4,155.5 514.9,155.5 514.4,155.5 513.9,155.5 513.4,155.5 512.9,155.5 512.4,155.5 511.9,155.5 511.4,155.5 510.9,155.5 510.4,155.5 509.9,155.5 509.4,155.5 508.9,155.5 508.4,155.5 507.9,155.5 507.4,155.5 506.9,155.5 506.4,155.5 505.9,155.5 505.4,155.5 504.9,155.5 504.4,155.5 503.9,155.5 503.4,155.5 502.9,155.5 502.4,155.5 501.9,155.5 501.4,155.5 500.9,155.5 500.4,155.5 499.9,155.5 499.4,155.5 498.9,155.5 498.4,155.5 497.9,155.5 497.4,155.5 496.9,155.5 496.4,155.5 495.9,155.5 495.4,155.5 494.9,155.5 494.4,155.5 493.9,155.5 493.4,155.5 492.9,155.5 492.4,155.5 491.9,155.5 491.4,155.5 490.9,155.5 490.4,155.5 489.9,155.5 489.4,155.5 488.9,155.5 488.4,155.5 487.9,155.5 487.4,155.5 486.9,155.5 486.4,155.5 485.9,155.5 485.4,155.5 484.9,155.5 484.4,155.5 483.9,155.5 483.4,155.5 482.9,155.5 482.4,155.5 481.9,155.5 481.4,155.5 480.9,155.5 480.4,155.5 479.9,155.5 479.4,155.5 478.9,155.5 478.4,155.5 477.9,155.5 477.4,155.5 476.9,155.5 476.4,155.5 475.9,155.5 475.4,155.5 474.9,155.5 474.4,155.5 473.9,155.5 473.4,155.5 472.9,155.5 472.4,155.5 471.9,155.5 471.4,155.5 470.9,155.5 470.4,155.5 469.9,155.5 469.4,155.5 468.9,155.5 468.4,155.5 467.9,155.5 467.4,155.5 466.9,155.5 466.4,155.5 465.9,155.5 465.4,155.5 464.9,155.5 464.4,155.5 463.9,155.5 463.4,155.5 462.9,155.5 462.4,155.5 461.9,155.5 461.4,155.5 460.9,155.5 460.4,155.5 459.9,155.5 459.4,155.5 458.9,155.5 458.4,155.5 457.9,155.5 457.4,155.5 456.9,155.5 456.4,155.5 455.9,155.5 455.4,155.5 454.9,155.5 454.4,155.5 453.9,155.5 453.4,155.5 452.9,155.5 452.4,155.5 451.9,155.5 451.4,155.5 450.9,155.5 450.4,155.5 449.9,155.5 449.4,155.5 448.9,155.5 448.4,155.5 447.9,155.5 447.4,155.5 446.9,155.5 446.4,155.5 445.9,155.5 445.4,155.5 444.9,155.5 444.4,155.5 443.9,155.5 443.4,155.5 442.9,155.5 442.4,155.5 441.9,155.5 441.4,155.5 440.9,155.5 440.4,155.5 439.9,155.5 439.4,155.5 438.9,155.7 438.4,156.2 437.9,156.8 437.4,157.3 436.9,157.8 436.4,158.4 435.9,158.9 435.4,159.4 434.9,160.0 434.4,160.5 433.9,161.0 433.4,161.6 432.9,162.1 432.4,162.6 431.9,163.2 431.4,163.7 430.9,164.0 430.4,164.3 429.9,164.6 429.4,164.9 428.9,165.3 428.4,165.6 427.9,165.9 427.4,166.2 426.9,166.5 426.4,166.8 425.9,167.1 425.4,167.4 424.9,167.8 424.4,168.1 423.9,168.4 423.4,169.8 422.9,171.9 422.4,174.1 421.9,176.2 421.4,178.4 420.9,180.5 420.4,182.1 419.9,183.2 419.4,184.4 418.9,185.5 418.4,186.7 417.9,187.8 417.4,189.0 416.9,190.1 416.4,191.2 415.9,192.4 415.4,193.5 414.9,194.4 414.4,195.4 413.9,196.3 413.4,197.3 412.9,198.2 412.4,199.1 411.9,200.1 411.4,201.0 410.9,202.0 410.4,202.9 409.9,203.5 409.4,204.0 408.9,204.6 408.4,205.1 407.9,205.6 407.4,206.2 406.9,206.7 406.4,207.2 405.9,207.7 405.4,208.3 404.9,208.8 404.4,209.3 403.9,209.8 403.4,210.4 402.9,210.9 402.4,211.4 401.9,212.0 401.4,212.5 400.9,212.9 400.4,213.1 399.9,213.3 399.4,213.5 398.9,213.6 398.4,213.8 397.9,214.0 397.4,214.2 396.9,214.3 396.4,214.5 395.9,214.7 395.4,214.9 394.9,215.0 394.4,215.2 393.9,215.4 393.4,215.6 392.9,215.7 392.4,215.9 391.9,216.1 391.4,216.3 390.9,216.4 390.4,216.6 389.9,216.8 389.4,217.1 388.9,217.3 388.4,217.5 387.9,217.7 387.4,217.9 386.9,218.1 386.4,218.3 385.9,218.5 385.4,218.7 384.9,219.0 384.4,219.2 383.9,219.4 383.4,219.6 382.9,219.8 382.4,220.0 381.9,220.2 381.4,220.4 380.9,220.6 380.4,220.9 379.9,220.9 379.4,220.9 378.9,221.0 378.4,221.0 377.9,221.0 377.4,221.1 376.9,221.1 376.4,221.1 375.9,221.1 375.4,221.2 374.9,221.2 374.4,221.2 373.9,221.2 373.4,221.3 372.9,221.3 372.4,221.3 371.9,221.4 371.4,221.4 370.9,221.5" fill="rgba(0,200,0,0.30)" stroke="none"/>
<polygon points="520.4,155.4 520.9,155.5 521.4,155.5 521.9,155.5 522.4,155.5 522.9,155.5 523.4,155.5 523.9,155.5 524.4,155.5 524.9,155.5 525.4,155.5 525.9,155.5 526.4,155.5 526.9,155.5 527.4,155.5 527.9,155.5 528.4,155.5 528.9,155.5 529.4,155.5 529.9,155.5 530.4,155.5 530.9,155.5 531.4,155.5 531.9,155.5 532.4,155.5 532.9,155.5 533.4,155.5 533.9,155.5 534.4,155.5 534.9,155.5 535.4,155.5 535.9,155.5 536.4,155.5 536.9,155.5 537.4,155.5 537.9,155.5 538.4,155.5 538.9,155.5 539.4,155.5 539.9,155.5 540.4,155.5 540.9,155.5 541.4,155.5 541.9,155.5 542.4,155.5 542.9,155.5 543.4,155.5 543.9,155.5 544.4,155.5 544.9,155.5 545.4,155.5 545.9,155.5 546.4,155.5 546.9,155.5 547.4,155.5 547.9,155.5 548.4,155.5 548.9,155.5 549.4,155.5 549.9,155.5 550.4,155.5 550.9,155.5 551.4,155.5 551.9,155.5 552.4,155.5 552.9,155.5 553.4,155.5 553.9,155.5 554.4,155.5 554.9,155.5 555.4,155.5 555.9,155.5 556.4,155.5 556.9,155.5 557.4,155.5 557.9,155.5 558.4,155.5 558.9,155.5 559.4,155.5 559.9,155.5 560.4,155.5 560.9,155.5 561.4,155.5 561.9,155.5 562.4,155.5 562.9,155.5 563.4,155.5 563.9,155.5 564.4,155.5 564.9,155.5 565.4,155.5 565.9,155.5 566.4,155.5 566.9,155.5 567.4,155.5 567.9,155.5 568.4,155.5 568.9,155.5 569.4,155.5 569.9,155.5 570.4,155.5 570.9,155.5 571.4,155.5 571.9,155.5 572.4,155.5 572.9,155.5 573.4,155.5 573.9,155.5 574.4,155.5 574.9,155.5 575.4,155.5 575.9,155.5 576.4,155.5 576.9,155.5 577.4,155.5 577.9,155.5 578.4,155.5 578.9,155.5 579.4,155.5 579.9,155.5 580.4,155.5 580.9,155.5 581.4,155.5 581.9,155.5 582.4,155.5 582.9,155.5 583.4,155.5 583.9,155.5 584.4,155.5 584.9,155.5 585.4,155.5 585.9,155.5 586.4,155.5 586.9,155.5 587.4,155.5 587.9,155.5 588.4,155.5 588.9,155.5 589.4,155.5 589.9,155.5 590.4,155.5 590.9,155.5 591.4,155.5 591.9,155.5 592.4,155.5 592.9,155.5 593.4,155.5 593.9,155.5 594.4,155.5 594.9,155.5 595.4,155.5 595.9,155.5 596.4,155.5 596.9,155.5 597.4,155.5 597.9,155.5 598.4,155.5 598.9,155.5 599.4,155.5 599.9,155.5 600.4,155.5 600.9,155.5 601.4,155.5 601.9,155.5 602.4,155.5 602.9,155.5 603.4,155.5 603.9,155.5 604.4,155.5 604.9,155.5 605.4,155.5 605.9,155.5 606.4,155.5 606.9,155.5 607.4,155.5 607.9,155.5 608.4,155.5 608.9,155.5 609.4,155.5 609.9,155.5 610.4,155.5 610.9,155.5 611.4,155.5 611.9,155.5 612.4,155.5 612.9,155.5 613.4,155.5 613.9,155.5 614.4,155.5 614.9,155.5 615.4,155.5 615.9,155.5 616.4,155.5 616.9,155.5 617.4,155.5 617.9,155.5 618.4,155.5 618.9,155.5 619.4,155.5 619.9,155.5 620.4,155.5 620.9,155.5 621.4,155.5 621.9,155.5 622.4,155.5 622.9,155.5 623.4,155.5 623.9,155.5 624.4,155.5 624.9,155.5 625.4,155.5 625.9,155.5 626.4,155.5 626.9,155.5 627.4,155.5 627.9,155.5 628.4,155.5 628.9,155.5 629.4,155.5 629.9,155.5 630.4,155.5 630.9,155.5 631.4,155.5 631.9,155.5 632.4,155.5 632.9,155.5 633.4,155.5 633.9,155.5 634.4,155.5 634.9,155.5 635.4,155.5 635.9,155.5 636.4,155.5 636.9,155.5 637.4,155.5 637.9,155.5 638.4,155.5 638.9,155.5 639.4,155.5 639.9,155.5 640.4,155.5 640.9,155.5 641.4,155.5 641.9,155.5 642.4,155.5 642.9,155.5 643.4,155.5 643.9,155.5 644.4,155.5 644.9,155.5 645.4,155.5 645.9,155.5 646.4,155.5 646.9,155.5 647.4,155.5 647.9,155.5 648.4,155.5 648.9,155.5 649.4,155.5 649.9,155.5 650.4,155.5 650.9,155.5 651.4,155.5 651.9,155.5 652.4,155.5 652.9,155.5 653.4,155.5 653.9,155.5 654.4,155.6 654.9,155.6 655.4,155.7 655.9,155.7 656.4,155.8 656.9,155.8 657.4,155.9 657.9,155.9 658.4,156.0 658.9,156.0 659.4,156.0 659.9,156.1 660.4,156.1 660.9,156.2 661.4,156.2 661.9,156.3 662.4,156.3 662.9,156.4 663.4,156.4 663.9,156.5 664.4,156.5 664.9,156.6 665.4,156.7 665.9,157.0 666.4,157.2 666.9,157.5 667.4,157.7 667.9,158.0 668.4,158.2 668.9,158.5 669.4,158.7 669.9,159.0 670.4,159.3 670.9,159.5 671.4,159.8 671.9,160.0 672.4,160.3 672.9,160.5 673.4,160.8 673.9,161.0 674.4,161.3 674.9,161.5 675.4,161.5 675.9,161.5 676.4,161.5 676.9,161.5 677.4,161.5 677.9,161.5 678.4,161.5 678.9,161.5 679.4,161.5 679.9,161.5 680.4,161.5 680.9,161.5 681.4,161.5 681.9,161.5 682.4,161.5 682.9,161.5 683.4,161.5 683.9,161.5 684.4,161.5 684.9,161.5 685.4,161.5 685.9,161.5 686.4,161.5 686.9,161.5 687.4,161.5 687.9,161.5 688.4,161.5 688.9,161.5 689.4,161.5 689.9,161.5 690.4,161.5 690.9,161.5 691.4,161.5 691.9,161.5 692.4,161.5 692.9,161.5 693.4,161.5 693.9,161.5 694.4,161.5 694.9,161.5 695.4,161.5 695.9,161.5 696.4,161.5 696.9,161.5 697.4,161.5 697.9,161.5 698.4,161.5 698.9,161.5 699.4,161.5 699.9,161.5 700.4,161.5 700.9,161.5 701.4,161.5 701.9,161.5 702.4,161.5 702.9,161.5 703.4,161.5 703.9,161.5 704.4,161.5 704.9,161.5 705.4,161.5 705.9,161.5 706.4,161.5 706.9,161.5 707.4,161.5 707.9,161.6 708.4,161.6 708.9,161.7 709.4,161.7 709.9,161.8 710.4,161.8 710.9,161.9 711.4,161.9 711.9,162.0 712.4,162.0 712.9,162.1 713.4,162.1 713.9,162.2 714.4,162.2 714.9,162.3 715.4,162.3 715.9,162.4 716.4,162.4 716.9,162.5 717.4,162.5 717.9,162.5 718.4,162.5 718.9,162.5 719.4,162.5 719.9,162.5 720.4,162.5 720.9,162.5 721.4,162.5 721.9,162.5 722.4,162.5 722.9,162.5 723.4,162.5 723.9,162.5 724.4,162.5 724.9,162.5 725.4,162.5 725.9,162.5 726.4,162.5 726.9,162.5 727.4,162.5 727.9,162.5 728.4,162.5 728.9,162.5 729.4,162.5 729.9,162.5 730.4,162.5 730.9,162.5 731.4,162.5 731.9,162.5 732.4,162.5 732.9,162.5 733.4,162.5 733.9,162.5 734.4,162.5 734.9,162.5 735.4,162.5 735.9,162.5 736.4,162.5 736.9,162.5 737.4,162.5 737.9,162.5 738.4,162.5 738.9,162.5 739.4,162.5 739.9,162.5 740.4,162.5 740.9,162.5 741.4,162.5 741.9,162.5 742.4,162.5 742.9,162.5 743.4,162.5 743.9,162.5 744.4,162.5 744.9,162.5 745.4,162.5 745.9,162.5 746.4,162.5 746.9,162.5 747.4,162.5 747.9,162.5 748.4,162.5 748.9,162.5 749.4,162.5 749.9,162.5 750.4,162.5 750.9,162.5 751.4,162.5 751.9,162.5 752.4,162.5 752.9,162.5 753.4,162.5 753.9,162.5 754.4,162.5 754.9,162.5 755.4,162.5 755.9,162.5 756.4,162.5 756.9,162.5 757.4,162.5 757.9,162.5 758.4,162.5 758.9,162.5 759.4,162.5 759.9,162.5 760.4,162.5 760.9,162.5 761.4,162.5 761.9,162.5 762.4,162.5 762.9,162.5 763.4,162.5 763.9,162.5 764.4,162.5 764.9,162.5 765.4,162.5 765.9,162.5 766.4,162.5 766.9,162.5 767.4,162.5 767.9,162.5 768.4,162.5 768.9,162.5 769.4,162.5 769.9,162.5 770.4,162.5 770.9,162.5 771.4,162.5 771.9,162.5 772.4,162.5 772.9,162.5 773.4,162.5 773.9,162.5 774.4,162.5 774.9,162.5 775.4,162.5 775.9,162.5 776.4,162.5 776.9,162.5 777.4,162.5 777.9,162.5 778.4,162.5 778.9,162.5 779.4,162.5 779.9,162.5 780.4,162.5 780.9,162.5 781.4,162.5 781.9,162.5 782.4,162.5 782.9,162.5 783.4,162.5 783.9,162.5 784.4,162.5 784.9,162.5 785.4,162.5 785.9,162.5 786.4,162.5 786.9,162.5 787.4,162.5 787.9,162.5 788.4,162.5 788.9,162.5 789.4,162.5 789.9,162.5 790.4,162.5 790.9,162.5 791.4,162.5 791.9,162.5 792.4,162.5 792.9,162.5 793.4,162.5 793.9,162.5 794.4,162.5 794.9,162.5 795.4,162.5 795.9,162.5 796.4,162.5 796.9,162.5 797.4,162.5 797.9,162.5 798.4,162.5 798.9,162.5 799.4,162.5 799.9,162.5 800.4,162.5 800.9,162.5 801.4,162.5 801.9,162.5 802.4,162.5 802.9,162.5 803.4,162.5 803.9,162.5 804.4,162.5 804.9,162.5 805.4,162.5 805.9,162.5 806.4,162.5 806.9,162.5 807.4,162.5 807.9,162.5 808.4,162.5 808.9,162.5 809.4,162.5 809.9,162.5 810.4,162.5 810.9,162.5 811.4,162.5 811.9,162.5 812.4,162.5 812.9,162.5 813.4,162.5 813.9,162.5 814.4,162.5 814.9,162.5 815.4,162.5 815.9,162.5 816.4,162.5 816.9,162.5 817.4,162.5 817.9,162.5 818.4,162.5 818.9,162.5 819.4,162.5 819.9,162.5 820.4,162.5 820.9,162.5 821.4,162.5 821.9,162.5 822.4,162.5 822.9,162.5 823.4,162.5 823.9,162.5 824.4,162.5 824.9,162.5 825.4,162.5 825.9,162.5 826.4,162.5 826.9,162.5 827.4,162.5 827.9,162.7 828.4,163.3 828.9,163.9 829.4,164.5 829.9,165.0 830.4,165.6 830.9,166.2 831.4,166.8 831.9,167.4 832.4,167.9 832.9,168.5 833.4,169.1 833.9,169.7 834.4,170.2 834.9,170.8 835.4,171.4 835.9,172.0 836.4,172.6 836.9,173.1 837.4,173.7 837.9,174.3 838.4,174.9 838.9,175.6 839.4,176.4 839.9,177.1 840.4,177.9 840.9,178.7 841.4,179.5 841.9,180.3 842.4,181.1 842.9,181.8 843.4,182.6 843.9,183.4 844.4,184.2 844.9,185.0 845.4,185.8 845.9,186.5 846.4,187.3 846.9,188.1 847.4,188.9 847.9,189.7 848.4,190.5 848.9,191.4 849.4,192.3 849.9,193.1 850.4,194.0 850.9,194.9 851.4,195.8 851.9,196.7 852.4,197.6 852.9,198.5 853.4,199.4 853.9,200.2 854.4,201.1 854.9,202.0 855.4,202.9 855.9,203.8 856.4,204.7 856.9,205.6 857.4,206.5 857.9,207.3 858.4,207.9 858.9,208.3 859.4,208.7 859.9,209.1 860.4,209.4 860.9,209.8 861.4,210.2 861.9,210.6 862.4,210.9 862.9,211.3 863.4,211.7 863.9,212.1 864.4,212.4 864.9,212.8 865.4,213.2 865.9,213.6 866.4,214.0 866.9,214.3 867.4,214.7 867.9,215.1 868.4,215.5 868.9,215.8 869.4,216.2 869.9,216.6 870.4,217.0 870.9,217.3 871.4,217.5 871.9,217.5 872.4,217.5 872.9,217.5 873.4,217.5 873.9,217.5 874.4,217.5 874.9,217.5 875.4,217.5 875.9,217.5 876.4,217.5 876.9,217.5 877.4,217.5 877.9,217.5 878.4,217.5 878.9,217.5 879.4,217.5 879.9,217.5 880.4,217.5 880.9,217.5 881.4,217.5 881.9,217.5 882.4,217.5 882.9,217.5 883.4,217.5 883.9,217.5 884.4,217.5 884.9,217.5 885.4,217.5 885.9,217.5 886.4,217.5 886.9,217.5 887.4,217.5 887.9,217.5 888.4,217.5 888.9,217.5 889.4,217.5 889.9,217.5 890.4,217.5 890.9,217.5 891.4,217.5 891.9,217.5 892.4,217.5 892.9,217.5 893.4,217.5 893.9,217.5 894.4,217.5 894.9,217.5 895.4,217.5 895.9,217.5 896.4,217.5 896.9,217.5 897.4,217.5 897.9,217.5 898.4,217.5 898.9,217.5 899.4,217.5 899.9,217.5 900.4,217.5 900.9,217.5 901.4,217.5 901.9,217.5 902.4,217.5 902.9,217.5 903.4,217.5 903.9,217.6 904.4,217.8 904.9,218.1 905.4,218.3 905.9,218.6 906.4,218.8 906.9,219.1 907.4,219.3 907.9,219.6 908.4,219.8 908.9,220.1 909.4,220.3 909.9,220.6 910.4,220.8 910.9,221.1 911.4,221.3 911.9,221.6 912.4,221.8 912.9,222.1 913.4,222.3 913.9,222.6 914.4,222.8 914.9,223.0 915.4,223.2 915.9,223.3 916.4,223.5 916.9,223.7 917.4,223.8 917.9,224.0 918.4,224.2 918.9,224.3 919.4,224.5 919.9,224.7 920.4,224.8 920.9,225.0 921.4,225.2 921.9,225.3 922.4,225.5 922.9,225.7 923.4,225.8 923.9,226.0 924.4,226.2 924.9,226.3 925.4,226.5 925.9,226.7 926.4,226.8 926.9,227.0 927.4,227.2 927.9,227.3 928.4,227.5 928.9,227.7 929.4,227.8 929.9,228.0 930.4,228.2 930.9,228.3 931.4,228.5 931.9,228.7 932.4,228.8 932.9,229.0 933.4,229.2 933.9,229.3 933.9,248.6 933.4,248.6 932.9,248.6 932.4,248.6 931.9,248.6 931.4,248.6 930.9,248.6 930.4,248.6 929.9,248.6 929.4,248.6 928.9,248.6 928.4,248.6 927.9,248.6 927.4,248.6 926.9,248.6 926.4,248.6 925.9,248.6 925.4,248.6 924.9,248.6 924.4,248.6 923.9,248.6 923.4,248.6 922.9,248.6 922.4,248.6 921.9,248.6 921.4,248.6 920.9,248.6 920.4,248.6 919.9,248.6 919.4,248.6 918.9,248.6 918.4,248.6 917.9,248.6 917.4,248.6 916.9,248.6 916.4,248.6 915.9,248.6 915.4,248.6 914.9,248.6 914.4,248.6 913.9,248.6 913.4,248.6 912.9,248.6 912.4,248.6 911.9,248.6 911.4,248.6 910.9,248.6 910.4,248.6 909.9,248.6 909.4,248.6 908.9,248.6 908.4,248.6 907.9,248.6 907.4,248.6 906.9,248.6 906.4,248.6 905.9,248.6 905.4,248.6 904.9,248.6 904.4,248.6 903.9,248.6 903.4,248.5 902.9,248.4 902.4,248.3 901.9,248.2 901.4,248.1 900.9,248.0 900.4,247.9 899.9,247.8 899.4,247.7 898.9,247.6 898.4,247.5 897.9,247.4 897.4,247.3 896.9,247.2 896.4,247.1 895.9,247.0 895.4,246.9 894.9,246.8 894.4,246.7 893.9,246.6 893.4,246.5 892.9,246.4 892.4,246.3 891.9,246.2 891.4,246.1 890.9,246.0 890.4,246.0 889.9,246.0 889.4,246.0 888.9,246.0 888.4,246.0 887.9,246.0 887.4,246.0 886.9,246.0 886.4,246.0 885.9,246.0 885.4,246.0 884.9,246.0 884.4,246.0 883.9,246.0 883.4,246.0 882.9,246.0 882.4,246.0 881.9,245.9 881.4,245.9 880.9,245.9 880.4,245.9 879.9,245.9 879.4,245.9 878.9,245.9 878.4,245.9 877.9,245.9 877.4,245.9 876.9,245.9 876.4,245.9 875.9,245.9 875.4,245.9 874.9,245.9 874.4,245.9 873.9,245.9 873.4,245.9 872.9,245.9 872.4,245.9 871.9,245.9 871.4,245.9 870.9,245.9 870.4,245.9 869.9,245.9 869.4,245.9 868.9,245.9 868.4,245.9 867.9,245.9 867.4,245.9 866.9,245.9 866.4,245.9 865.9,245.9 865.4,245.8 864.9,245.8 864.4,245.8 863.9,245.8 863.4,245.8 862.9,245.8 862.4,245.8 861.9,245.8 861.4,245.8 860.9,245.8 860.4,245.8 859.9,245.8 859.4,245.8 858.9,245.8 858.4,245.8 857.9,245.8 857.4,245.8 856.9,245.8 856.4,245.8 855.9,245.8 855.4,245.8 854.9,245.8 854.4,245.8 853.9,245.8 853.4,245.8 852.9,245.8 852.4,245.8 851.9,245.8 851.4,245.8 850.9,245.8 850.4,245.8 849.9,245.8 849.4,245.8 848.9,245.7 848.4,245.7 847.9,245.7 847.4,245.7 846.9,245.7 846.4,245.7 845.9,245.7 845.4,245.7 844.9,245.7 844.4,245.7 843.9,245.7 843.4,245.7 842.9,245.7 842.4,245.7 841.9,245.7 841.4,245.7 840.9,245.7 840.4,245.7 839.9,245.7 839.4,245.7 838.9,245.7 838.4,245.7 837.9,245.7 837.4,245.7 836.9,245.7 836.4,245.7 835.9,245.7 835.4,245.7 834.9,245.7 834.4,245.7 833.9,245.7 833.4,245.7 832.9,245.7 832.4,245.6 831.9,245.6 831.4,245.6 830.9,245.6 830.4,245.6 829.9,245.6 829.4,245.6 828.9,245.6 828.4,245.6 827.9,245.6 827.4,245.6 826.9,245.6 826.4,245.6 825.9,245.6 825.4,245.6 824.9,245.6 824.4,245.6 823.9,245.6 823.4,245.6 822.9,245.6 822.4,245.6 821.9,245.6 821.4,245.6 820.9,245.6 820.4,245.6 819.9,245.6 819.4,245.6 818.9,245.6 818.4,245.6 817.9,245.6 817.4,245.6 816.9,245.6 816.4,245.6 815.9,245.6 815.4,245.5 814.9,245.5 814.4,245.5 813.9,245.5 813.4,245.5 812.9,245.5 812.4,245.5 811.9,245.5 811.4,245.5 810.9,245.5 810.4,245.5 809.9,245.5 809.4,245.5 808.9,245.5 808.4,245.5 807.9,245.5 807.4,245.5 806.9,245.5 806.4,245.5 805.9,245.5 805.4,245.5 804.9,245.5 804.4,245.5 803.9,245.5 803.4,245.5 802.9,245.5 802.4,245.5 801.9,245.5 801.4,245.5 800.9,245.5 800.4,245.5 799.9,245.5 799.4,245.5 798.9,245.4 798.4,245.4 797.9,245.4 797.4,245.4 796.9,245.4 796.4,245.4 795.9,245.4 795.4,245.4 794.9,245.4 794.4,245.4 793.9,245.4 793.4,245.4 792.9,245.4 792.4,245.4 791.9,245.4 791.4,245.4 790.9,245.4 790.4,245.4 789.9,245.5 789.4,245.5 788.9,245.5 788.4,245.6 787.9,245.6 787.4,245.6 786.9,245.7 786.4,245.7 785.9,245.7 785.4,245.8 784.9,245.8 784.4,245.8 783.9,245.9 783.4,245.9 782.9,245.9 782.4,246.0 781.9,245.9 781.4,245.5 780.9,245.1 780.4,244.7 779.9,244.4 779.4,244.0 778.9,243.6 778.4,243.3 777.9,242.9 777.4,242.5 776.9,242.2 776.4,241.8 775.9,241.4 775.4,241.1 774.9,240.7 774.4,240.4 773.9,240.7 773.4,240.9 772.9,241.1 772.4,241.3 771.9,241.5 771.4,241.7 770.9,242.0 770.4,242.2 769.9,242.4 769.4,242.6 768.9,242.8 768.4,243.0 767.9,243.2 767.4,243.2 766.9,243.1 766.4,243.1 765.9,243.0 765.4,243.0 764.9,243.0 764.4,242.9 763.9,242.9 763.4,242.8 762.9,242.8 762.4,242.8 761.9,242.7 761.4,242.7 760.9,242.6 760.4,242.6 759.9,242.5 759.4,242.5 758.9,242.4 758.4,242.4 757.9,242.3 757.4,242.3 756.9,242.2 756.4,242.2 755.9,242.1 755.4,242.1 754.9,242.0 754.4,242.0 753.9,241.9 753.4,241.9 752.9,241.8 752.4,241.8 751.9,241.7 751.4,241.7 750.9,241.7 750.4,241.7 749.9,241.7 749.4,241.7 748.9,241.7 748.4,241.7 747.9,241.6 747.4,241.6 746.9,241.6 746.4,241.6 745.9,241.6 745.4,241.6 744.9,241.6 744.4,241.6 743.9,241.6 743.4,241.6 742.9,241.6 742.4,241.6 741.9,241.6 741.4,241.6 740.9,241.5 740.4,241.5 739.9,241.5 739.4,241.5 738.9,241.5 738.4,241.5 737.9,241.5 737.4,241.5 736.9,241.5 736.4,241.5 735.9,241.5 735.4,241.5 734.9,241.5 734.4,241.5 733.9,241.4 733.4,241.4 732.9,241.4 732.4,241.4 731.9,241.4 731.4,241.4 730.9,241.4 730.4,241.4 729.9,241.2 729.4,241.1 728.9,240.9 728.4,240.8 727.9,240.6 727.4,240.4 726.9,240.3 726.4,240.1 725.9,240.0 725.4,239.8 724.9,239.7 724.4,239.5 723.9,239.3 723.4,239.2 722.9,239.0 722.4,238.9 721.9,238.7 721.4,238.5 720.9,238.4 720.4,238.2 719.9,238.1 719.4,237.9 718.9,237.8 718.4,237.6 717.9,237.4 717.4,237.3 716.9,237.1 716.4,237.0 715.9,236.8 715.4,236.6 714.9,236.5 714.4,236.3 713.9,236.2 713.4,236.0 712.9,235.8 712.4,235.7 711.9,235.5 711.4,235.4 710.9,235.2 710.4,235.1 709.9,234.9 709.4,234.7 708.9,234.6 708.4,234.4 707.9,234.3 707.4,234.1 706.9,234.0 706.4,233.9 705.9,233.8 705.4,233.7 704.9,233.6 704.4,233.6 703.9,233.5 703.4,233.4 702.9,233.3 702.4,233.2 701.9,233.1 701.4,233.0 700.9,232.9 700.4,232.8 699.9,232.7 699.4,232.6 698.9,232.6 698.4,232.5 697.9,232.4 697.4,232.3 696.9,232.2 696.4,232.1 695.9,232.0 695.4,231.9 694.9,231.8 694.4,231.7 693.9,231.6 693.4,231.6 692.9,231.5 692.4,231.4 691.9,231.3 691.4,231.3 690.9,231.3 690.4,231.2 689.9,231.2 689.4,231.2 688.9,231.2 688.4,231.2 687.9,231.1 687.4,231.1 686.9,231.1 686.4,231.1 685.9,231.1 685.4,231.1 684.9,231.0 684.4,231.0 683.9,231.0 683.4,231.0 682.9,231.0 682.4,230.9 681.9,230.9 681.4,230.9 680.9,230.9 680.4,230.9 679.9,230.9 679.4,230.8 678.9,230.8 678.4,230.8 677.9,230.8 677.4,230.8 676.9,230.7 676.4,230.7 675.9,230.7 675.4,230.5 674.9,230.1 674.4,229.7 673.9,229.3 673.4,228.9 672.9,228.5 672.4,228.2 671.9,227.8 671.4,227.4 670.9,227.0 670.4,226.6 669.9,226.2 669.4,225.8 668.9,225.5 668.4,225.1 667.9,224.7 667.4,224.3 666.9,223.9 666.4,223.5 665.9,223.1 665.4,222.8 664.9,222.3 664.4,221.9 663.9,221.4 663.4,220.9 662.9,220.5 662.4,220.0 661.9,219.6 661.4,219.1 660.9,218.7 660.4,218.2 659.9,217.7 659.4,217.3 658.9,216.8 658.4,216.4 657.9,215.9 657.4,215.4 656.9,215.0 656.4,214.5 655.9,214.1 655.4,213.6 654.9,213.2 654.4,212.7 653.9,212.2 653.4,211.8 652.9,211.3 652.4,210.9 651.9,210.3 651.4,209.5 650.9,208.7 650.4,207.9 649.9,207.1 649.4,206.3 648.9,205.5 648.4,204.7 647.9,203.9 647.4,203.1 646.9,202.3 646.4,201.5 645.9,200.7 645.4,199.9 644.9,199.2 644.4,198.9 643.9,198.6 643.4,198.3 642.9,198.0 642.4,197.7 641.9,197.4 641.4,197.1 640.9,196.7 640.4,196.4 639.9,196.1 639.4,195.8 638.9,195.5 638.4,195.2 637.9,194.9 637.4,194.6 636.9,194.2 636.4,193.7 635.9,193.3 635.4,192.9 634.9,192.4 634.4,192.0 633.9,191.6 633.4,191.1 632.9,190.7 632.4,190.3 631.9,189.8 631.4,189.4 630.9,189.0 630.4,188.6 629.9,188.4 629.4,188.2 628.9,188.1 628.4,187.9 627.9,187.7 627.4,187.5 626.9,187.3 626.4,187.1 625.9,186.9 625.4,186.7 624.9,186.6 624.4,186.4 623.9,186.2 623.4,186.0 622.9,185.8 622.4,185.7 621.9,185.6 621.4,185.5 620.9,185.5 620.4,185.4 619.9,185.3 619.4,185.2 618.9,185.1 618.4,185.0 617.9,184.9 617.4,184.9 616.9,184.8 616.4,184.7 615.9,184.6 615.4,184.5 614.9,184.5 614.4,184.5 613.9,184.5 613.4,184.5 612.9,184.5 612.4,184.5 611.9,184.5 611.4,184.5 610.9,184.5 610.4,184.5 609.9,184.5 609.4,184.5 608.9,184.5 608.4,184.5 607.9,184.5 607.4,184.5 606.9,184.4 606.4,184.3 605.9,184.2 605.4,184.2 604.9,184.1 604.4,184.0 603.9,183.9 603.4,183.8 602.9,183.8 602.4,183.7 601.9,183.6 601.4,183.5 600.9,183.5 600.4,183.4 599.9,183.3 599.4,183.2 598.9,183.1 598.4,182.9 597.9,182.8 597.4,182.7 596.9,182.6 596.4,182.4 595.9,182.3 595.4,182.2 594.9,182.1 594.4,181.9 593.9,181.8 593.4,181.7 592.9,181.6 592.4,181.4 591.9,181.2 591.4,181.0 590.9,180.7 590.4,180.4 589.9,180.1 589.4,179.9 588.9,179.6 588.4,179.3 587.9,179.1 587.4,178.8 586.9,178.5 586.4,178.2 585.9,178.0 585.4,177.7 584.9,177.4 584.4,177.0 583.9,176.0 583.4,174.9 582.9,173.9 582.4,172.8 581.9,171.8 581.4,170.8 580.9,169.7 580.4,168.7 579.9,167.6 579.4,166.6 578.9,165.6 578.4,164.5 577.9,163.5 577.4,162.4 576.9,161.4 576.4,161.3 575.9,161.3 575.4,161.2 574.9,161.2 574.4,161.1 573.9,161.0 573.4,161.0 572.9,160.9 572.4,160.8 571.9,160.8 571.4,160.7 570.9,160.7 570.4,160.6 569.9,160.5 569.4,160.5 568.9,160.4 568.4,160.4 567.9,160.3 567.4,160.2 566.9,160.2 566.4,160.1 565.9,160.0 565.4,160.0 564.9,159.9 564.4,159.9 563.9,159.8 563.4,159.7 562.9,159.7 562.4,159.6 561.9,159.5 561.4,159.5 560.9,159.4 560.4,159.4 559.9,159.4 559.4,159.3 558.9,159.3 558.4,159.2 557.9,159.2 557.4,159.2 556.9,159.1 556.4,159.1 555.9,159.0 555.4,159.0 554.9,159.0 554.4,158.9 553.9,158.9 553.4,159.0 552.9,159.0 552.4,159.0 551.9,159.1 551.4,159.1 550.9,159.2 550.4,159.2 549.9,159.2 549.4,159.3 548.9,159.3 548.4,159.4 547.9,159.4 547.4,159.4 546.9,159.5 546.4,159.5 545.9,159.6 545.4,159.7 544.9,159.8 544.4,159.9 543.9,160.0 543.4,160.1 542.9,160.2 542.4,160.3 541.9,160.4 541.4,160.4 540.9,160.5 540.4,160.6 539.9,160.7 539.4,160.8 538.9,160.9 538.4,160.9 537.9,160.9 537.4,160.9 536.9,160.9 536.4,160.9 535.9,160.9 535.4,160.9 534.9,160.9 534.4,160.9 533.9,160.9 533.4,160.9 532.9,160.9 532.4,160.9 531.9,160.9 531.4,160.9 530.9,160.7 530.4,160.5 529.9,160.2 529.4,160.0 528.9,159.7 528.4,159.5 527.9,159.2 527.4,159.0 526.9,158.7 526.4,158.5 525.9,158.2 525.4,158.0 524.9,157.7 524.4,157.5 523.9,157.2 523.4,156.9 522.9,156.7 522.4,156.4 521.9,156.2 521.4,155.9 520.9,155.7 520.4,155.5" fill="rgba(0,0,255,0.22)" stroke="none"/>
<polyline points="15.0,233.0 15.0,215.3 135.5,215.5 143.2,208.0 150.5,199.4 157.8,198.4 165.7,197.9 173.1,190.6 180.8,190.4 187.6,187.5 196.1,179.2 203.7,176.7 211.3,160.5 218.9,127.6 226.5,84.5 234.1,73.8 241.8,59.6 614.9,59.6 622.9,79.6 630.6,101.7 640.2,135.0 646.0,152.2 652.7,165.7 660.4,169.9 692.0,169.9 698.8,171.8 706.4,182.0 714.1,190.6 721.8,192.5 736.5,192.3 747.4,198.0 752.8,200.1 760.4,200.1 768.0,222.9 782.1,222.9 789.7,227.3 804.9,227.3 812.5,229.4 841.8,229.4 850.5,225.1 882.0,225.1 887.6,205.2 895.2,197.0 904.2,190.8 910.4,191.2 918.6,165.0 926.2,161.7 933.8,156.0" fill="none" stroke="rgba(255,0,255,0.72)" stroke-width="4.3" stroke-linejoin="miter" stroke-miterlimit="3"/>
<polyline points="15.0,232.2 21.5,232.2 29.1,241.0 36.7,241.0 44.3,249.6 112.0,249.6 120.0,251.8 454.5,251.8 462.1,254.3 469.8,255.3 477.5,264.5 508.2,264.5 515.9,265.4 886.3,265.3 897.2,263.8 934.1,263.8" fill="none" stroke="rgba(255,0,255,0.72)" stroke-width="4.3" stroke-linejoin="miter" stroke-miterlimit="3"/>
</g>
<text x="19.5" y="34" fill="#1a5fc0">ICHIMOKU (26, 9)</text>
<text x="132.5" y="34" fill="#ff44ff">DONCHIAN (50)</text>
<text x="946" y="34" fill="#5a5a5a">24.000</text>
<text x="946" y="75" fill="#5a5a5a">21.000</text>
<text x="946" y="116" fill="#5a5a5a">18.000</text>
<text x="946" y="156" fill="#5a5a5a">15.000</text>
<text x="946" y="197" fill="#5a5a5a">12.000</text>
<text x="946" y="238" fill="#5a5a5a">9.000</text>
<text x="946" y="279" fill="#5a5a5a">6.000</text>
<line x1="14" y1="313.5" x2="942" y2="313.5" stroke="#dddddd" stroke-width="1"/><line x1="14" y1="344.5" x2="942" y2="344.5" stroke="#dddddd" stroke-width="1"/><line x1="105.5" y1="288" x2="105.5" y2="376" stroke="#dddddd" stroke-width="1"/><line x1="188.5" y1="288" x2="188.5" y2="376" stroke="#dddddd" stroke-width="1"/><line x1="272.5" y1="288" x2="272.5" y2="376" stroke="#dddddd" stroke-width="1"/><line x1="356.5" y1="288" x2="356.5" y2="376" stroke="#dddddd" stroke-width="1"/><line x1="439.5" y1="288" x2="439.5" y2="376" stroke="#dddddd" stroke-width="1"/><line x1="523.5" y1="288" x2="523.5" y2="376" stroke="#dddddd" stroke-width="1"/><line x1="607.5" y1="288" x2="607.5" y2="376" stroke="#dddddd" stroke-width="1"/><line x1="691.5" y1="288" x2="691.5" y2="376" stroke="#dddddd" stroke-width="1"/><line x1="774.5" y1="288" x2="774.5" y2="376" stroke="#dddddd" stroke-width="1"/><line x1="858.5" y1="288" x2="858.5" y2="376" stroke="#dddddd" stroke-width="1"/>
<line x1="11" y1="313.5" x2="14" y2="313.5" stroke="#dddddd"/>
<line x1="11" y1="344.5" x2="14" y2="344.5" stroke="#dddddd"/>
<rect x="14.5" y="288.5" width="927" height="87" fill="none" stroke="#dddddd" stroke-width="1"/>
<g clip-path="url(#cv)">
<rect x="18.0" y="370.6" width="5" height="5.4" fill="rgba(0,162,0,0.733)"/>
<rect x="26.0" y="365.3" width="5" height="10.7" fill="rgba(0,162,0,0.733)"/>
<rect x="33.0" y="370.1" width="5" height="5.9" fill="rgba(255,0,0,0.75)"/>
<rect x="41.0" y="368.5" width="5" height="7.5" fill="rgba(255,0,0,0.75)"/>
<rect x="48.0" y="373.9" width="5" height="2.1" fill="rgba(0,162,0,0.733)"/>
<rect x="56.0" y="371.0" width="5" height="5.0" fill="rgba(0,162,0,0.733)"/>
<rect x="64.0" y="372.0" width="5" height="4.0" fill="rgba(255,0,0,0.75)"/>
<rect x="71.0" y="362.4" width="5" height="13.6" fill="rgba(0,162,0,0.733)"/>
<rect x="79.0" y="366.8" width="5" height="9.2" fill="rgba(255,0,0,0.75)"/>
<rect x="86.0" y="372.0" width="5" height="4.0" fill="rgba(255,0,0,0.75)"/>
<rect x="94.0" y="369.7" width="5" height="6.3" fill="rgba(255,0,0,0.75)"/>
<rect x="102.0" y="372.9" width="5" height="3.1" fill="rgba(0,162,0,0.733)"/>
<rect x="109.0" y="372.9" width="5" height="3.1" fill="rgba(255,0,0,0.75)"/>
<rect x="117.0" y="373.5" width="5" height="2.5" fill="rgba(255,0,0,0.75)"/>
<rect x="125.0" y="368.1" width="5" height="7.9" fill="rgba(0,162,0,0.733)"/>
<rect x="132.0" y="369.1" width="5" height="6.9" fill="rgba(0,162,0,0.733)"/>
<rect x="140.0" y="363.9" width="5" height="12.1" fill="rgba(0,162,0,0.733)"/>
<rect x="147.0" y="365.8" width="5" height="10.2" fill="rgba(0,162,0,0.733)"/>
<rect x="155.0" y="363.0" width="5" height="13.0" fill="rgba(0,162,0,0.733)"/>
<rect x="163.0" y="351.8" width="5" height="24.2" fill="rgba(0,162,0,0.733)"/>
<rect x="170.0" y="361.8" width="5" height="14.2" fill="rgba(0,162,0,0.733)"/>
<rect x="178.0" y="363.0" width="5" height="13.0" fill="rgba(255,0,0,0.75)"/>
<rect x="185.0" y="356.6" width="5" height="19.4" fill="rgba(0,162,0,0.733)"/>
<rect x="193.0" y="356.0" width="5" height="20.0" fill="rgba(0,162,0,0.733)"/>
<rect x="201.0" y="356.0" width="5" height="20.0" fill="rgba(0,162,0,0.733)"/>
<rect x="208.0" y="348.4" width="5" height="27.6" fill="rgba(0,162,0,0.733)"/>
<rect x="216.0" y="321.1" width="5" height="54.9" fill="rgba(0,162,0,0.733)"/>
<rect x="223.0" y="309.2" width="5" height="66.8" fill="rgba(0,162,0,0.733)"/>
<rect x="231.0" y="343.8" width="5" height="32.2" fill="rgba(0,162,0,0.733)"/>
<rect x="239.0" y="354.1" width="5" height="21.9" fill="rgba(255,0,0,0.75)"/>
<rect x="246.0" y="338.8" width="5" height="37.2" fill="rgba(255,0,0,0.75)"/>
<rect x="254.0" y="362.0" width="5" height="14.0" fill="rgba(255,0,0,0.75)"/>
<rect x="261.0" y="363.0" width="5" height="13.0" fill="rgba(255,0,0,0.75)"/>
<rect x="269.0" y="363.9" width="5" height="12.1" fill="rgba(255,0,0,0.75)"/>
<rect x="277.0" y="369.5" width="5" height="6.5" fill="rgba(255,0,0,0.75)"/>
<rect x="284.0" y="373.9" width="5" height="2.1" fill="rgba(255,0,0,0.75)"/>
<rect x="292.0" y="372.0" width="5" height="4.0" fill="rgba(255,0,0,0.75)"/>
<rect x="299.0" y="373.9" width="5" height="2.1" fill="rgba(255,0,0,0.75)"/>
<rect x="307.0" y="372.9" width="5" height="3.1" fill="rgba(0,162,0,0.733)"/>
<rect x="315.0" y="363.0" width="5" height="13.0" fill="rgba(0,162,0,0.733)"/>
<rect x="322.0" y="372.9" width="5" height="3.1" fill="rgba(255,0,0,0.75)"/>
<rect x="330.0" y="370.6" width="5" height="5.4" fill="rgba(255,0,0,0.75)"/>
<rect x="338.0" y="361.0" width="5" height="15.0" fill="rgba(255,0,0,0.75)"/>
<rect x="345.0" y="354.7" width="5" height="21.3" fill="rgba(0,162,0,0.733)"/>
<rect x="353.0" y="371.0" width="5" height="5.0" fill="rgba(255,0,0,0.75)"/>
<rect x="360.0" y="335.1" width="5" height="40.9" fill="rgba(0,162,0,0.733)"/>
<rect x="368.0" y="370.4" width="5" height="5.6" fill="rgba(255,0,0,0.75)"/>
<rect x="376.0" y="369.1" width="5" height="6.9" fill="rgba(255,0,0,0.75)"/>
<rect x="383.0" y="367.2" width="5" height="8.8" fill="rgba(255,0,0,0.75)"/>
<rect x="391.0" y="371.4" width="5" height="4.6" fill="rgba(255,0,0,0.75)"/>
<rect x="398.0" y="371.0" width="5" height="5.0" fill="rgba(0,162,0,0.733)"/>
<rect x="406.0" y="367.2" width="5" height="8.8" fill="rgba(255,0,0,0.75)"/>
<rect x="414.0" y="368.7" width="5" height="7.3" fill="rgba(0,162,0,0.733)"/>
<rect x="421.0" y="371.0" width="5" height="5.0" fill="rgba(255,0,0,0.75)"/>
<rect x="429.0" y="365.6" width="5" height="10.4" fill="rgba(0,162,0,0.733)"/>
<rect x="436.0" y="370.1" width="5" height="5.9" fill="rgba(255,0,0,0.75)"/>
<rect x="444.0" y="372.6" width="5" height="3.4" fill="rgba(0,162,0,0.733)"/>
<rect x="452.0" y="369.1" width="5" height="6.9" fill="rgba(255,0,0,0.75)"/>
<rect x="459.0" y="369.1" width="5" height="6.9" fill="rgba(255,0,0,0.75)"/>
<rect x="467.0" y="368.7" width="5" height="7.3" fill="rgba(255,0,0,0.75)"/>
<rect x="474.0" y="346.4" width="5" height="29.6" fill="rgba(255,0,0,0.75)"/>
<rect x="482.0" y="363.0" width="5" height="13.0" fill="rgba(0,162,0,0.733)"/>
<rect x="490.0" y="348.4" width="5" height="27.6" fill="rgba(0,162,0,0.733)"/>
<rect x="497.0" y="362.4" width="5" height="13.6" fill="rgba(255,0,0,0.75)"/>
<rect x="505.0" y="366.2" width="5" height="9.8" fill="rgba(255,0,0,0.75)"/>
<rect x="513.0" y="361.8" width="5" height="14.2" fill="rgba(255,0,0,0.75)"/>
<rect x="520.0" y="365.8" width="5" height="10.2" fill="rgba(0,162,0,0.733)"/>
<rect x="528.0" y="360.5" width="5" height="15.5" fill="rgba(255,0,0,0.75)"/>
<rect x="535.0" y="372.0" width="5" height="4.0" fill="rgba(0,162,0,0.733)"/>
<rect x="543.0" y="359.5" width="5" height="16.5" fill="rgba(0,162,0,0.733)"/>
<rect x="551.0" y="370.1" width="5" height="5.9" fill="rgba(0,162,0,0.733)"/>
<rect x="558.0" y="334.9" width="5" height="41.1" fill="rgba(0,162,0,0.733)"/>
<rect x="566.0" y="361.0" width="5" height="15.0" fill="rgba(0,162,0,0.733)"/>
<rect x="573.0" y="350.9" width="5" height="25.1" fill="rgba(0,162,0,0.733)"/>
<rect x="581.0" y="362.0" width="5" height="14.0" fill="rgba(255,0,0,0.75)"/>
<rect x="589.0" y="365.8" width="5" height="10.2" fill="rgba(255,0,0,0.75)"/>
<rect x="596.0" y="359.9" width="5" height="16.1" fill="rgba(0,162,0,0.733)"/>
<rect x="604.0" y="366.2" width="5" height="9.8" fill="rgba(0,162,0,0.733)"/>
<rect x="611.0" y="348.9" width="5" height="27.1" fill="rgba(255,0,0,0.75)"/>
<rect x="619.0" y="340.7" width="5" height="35.3" fill="rgba(255,0,0,0.75)"/>
<rect x="627.0" y="319.8" width="5" height="56.2" fill="rgba(0,162,0,0.733)"/>
<rect x="634.0" y="366.2" width="5" height="9.8" fill="rgba(255,0,0,0.75)"/>
<rect x="642.0" y="353.7" width="5" height="22.3" fill="rgba(0,162,0,0.733)"/>
<rect x="649.0" y="369.5" width="5" height="6.5" fill="rgba(255,0,0,0.75)"/>
<rect x="657.0" y="369.5" width="5" height="6.5" fill="rgba(255,0,0,0.75)"/>
<rect x="665.0" y="372.0" width="5" height="4.0" fill="rgba(0,162,0,0.733)"/>
<rect x="672.0" y="343.6" width="5" height="32.4" fill="rgba(0,162,0,0.733)"/>
<rect x="680.0" y="365.8" width="5" height="10.2" fill="rgba(0,162,0,0.733)"/>
<rect x="688.0" y="364.3" width="5" height="11.7" fill="rgba(255,0,0,0.75)"/>
<rect x="695.0" y="362.0" width="5" height="14.0" fill="rgba(255,0,0,0.75)"/>
<rect x="703.0" y="365.3" width="5" height="10.7" fill="rgba(255,0,0,0.75)"/>
<rect x="710.0" y="369.1" width="5" height="6.9" fill="rgba(0,162,0,0.733)"/>
<rect x="718.0" y="359.1" width="5" height="16.9" fill="rgba(0,162,0,0.733)"/>
<rect x="726.0" y="368.1" width="5" height="7.9" fill="rgba(255,0,0,0.75)"/>
<rect x="733.0" y="368.0" width="5" height="8.0" fill="rgba(255,0,0,0.75)"/>
<rect x="741.0" y="370.1" width="5" height="5.9" fill="rgba(0,162,0,0.733)"/>
<rect x="748.0" y="373.8" width="5" height="2.2" fill="rgba(255,0,0,0.75)"/>
<rect x="756.0" y="358.6" width="5" height="17.4" fill="rgba(0,162,0,0.733)"/>
<rect x="764.0" y="367.8" width="5" height="8.2" fill="rgba(255,0,0,0.75)"/>
<rect x="771.0" y="357.5" width="5" height="18.5" fill="rgba(255,0,0,0.75)"/>
<rect x="779.0" y="356.9" width="5" height="19.1" fill="rgba(255,0,0,0.75)"/>
<rect x="786.0" y="369.9" width="5" height="6.1" fill="rgba(255,0,0,0.75)"/>
<rect x="794.0" y="365.6" width="5" height="10.4" fill="rgba(255,0,0,0.75)"/>
<rect x="802.0" y="364.5" width="5" height="11.5" fill="rgba(255,0,0,0.75)"/>
<rect x="809.0" y="364.1" width="5" height="11.9" fill="rgba(0,162,0,0.733)"/>
<rect x="817.0" y="363.0" width="5" height="13.0" fill="rgba(0,162,0,0.733)"/>
<rect x="824.0" y="349.9" width="5" height="26.1" fill="rgba(0,162,0,0.733)"/>
<rect x="832.0" y="358.6" width="5" height="17.4" fill="rgba(0,162,0,0.733)"/>
<rect x="840.0" y="352.8" width="5" height="23.2" fill="rgba(0,162,0,0.733)"/>
<rect x="847.0" y="346.7" width="5" height="29.3" fill="rgba(0,162,0,0.733)"/>
<rect x="855.0" y="363.6" width="5" height="12.4" fill="rgba(255,0,0,0.75)"/>
<rect x="862.0" y="361.9" width="5" height="14.1" fill="rgba(255,0,0,0.75)"/>
<rect x="870.0" y="366.7" width="5" height="9.3" fill="rgba(255,0,0,0.75)"/>
<rect x="878.0" y="363.0" width="5" height="13.0" fill="rgba(0,162,0,0.733)"/>
<rect x="885.0" y="346.0" width="5" height="30.0" fill="rgba(0,162,0,0.733)"/>
<rect x="893.0" y="364.1" width="5" height="11.9" fill="rgba(0,162,0,0.733)"/>
<rect x="901.0" y="337.4" width="5" height="38.6" fill="rgba(0,162,0,0.733)"/>
<rect x="908.0" y="361.2" width="5" height="14.8" fill="rgba(255,0,0,0.75)"/>
<rect x="916.0" y="346.7" width="5" height="29.3" fill="rgba(0,162,0,0.733)"/>
<rect x="923.0" y="308.0" width="5" height="68.0" fill="rgba(0,162,0,0.733)"/>
<rect x="931.0" y="361.2" width="5" height="14.8" fill="rgba(0,162,0,0.733)"/>
</g>
<text x="19" y="301" fill="#33aa33">VOLUME</text>
<text x="946" y="315" fill="#5a5a5a">1400K</text>
<text x="946" y="346" fill="#5a5a5a">700K</text>
<svg x="940" y="360" width="50" height="16"><text x="6" y="18" fill="#5a5a5a">0</text></svg>
<line x1="14" y1="397.5" x2="942" y2="397.5" stroke="#dddddd" stroke-width="1"/><line x1="14" y1="432.5" x2="942" y2="432.5" stroke="#dddddd" stroke-width="1"/><line x1="105.5" y1="379" x2="105.5" y2="467" stroke="#dddddd" stroke-width="1"/><line x1="188.5" y1="379" x2="188.5" y2="467" stroke="#dddddd" stroke-width="1"/><line x1="272.5" y1="379" x2="272.5" y2="467" stroke="#dddddd" stroke-width="1"/><line x1="356.5" y1="379" x2="356.5" y2="467" stroke="#dddddd" stroke-width="1"/><line x1="439.5" y1="379" x2="439.5" y2="467" stroke="#dddddd" stroke-width="1"/><line x1="523.5" y1="379" x2="523.5" y2="467" stroke="#dddddd" stroke-width="1"/><line x1="607.5" y1="379" x2="607.5" y2="467" stroke="#dddddd" stroke-width="1"/><line x1="691.5" y1="379" x2="691.5" y2="467" stroke="#dddddd" stroke-width="1"/><line x1="774.5" y1="379" x2="774.5" y2="467" stroke="#dddddd" stroke-width="1"/><line x1="858.5" y1="379" x2="858.5" y2="467" stroke="#dddddd" stroke-width="1"/>
<rect x="14.5" y="379.5" width="927" height="87" fill="none" stroke="#dddddd" stroke-width="1"/>
<rect x="14" y="380" width="928" height="25.5" fill="rgba(255,0,0,0.15)"/>
<rect x="14" y="441.5" width="928" height="25.5" fill="rgba(0,120,0,0.15)"/>
<line x1="14" y1="405.5" x2="942" y2="405.5" stroke="#ee5555"/>
<line x1="14" y1="423.5" x2="942" y2="423.5" stroke="#99ccff"/>
<line x1="14" y1="441.5" x2="942" y2="441.5" stroke="#66aa66"/>
<g clip-path="url(#cr)">
<polyline points="20.6,423.0 28.2,378.9 29.2,379.0 35.9,425.0 43.6,452.4 50.9,444.1 58.9,432.0 66.6,438.4 73.7,421.1 81.4,422.4 88.7,424.0 96.8,433.6 104.4,421.1 111.7,431.3 119.4,432.0 127.5,430.1 134.8,420.5 142.4,410.9 150.1,405.8 157.8,405.8 165.5,404.8 173.1,402.9 180.8,407.7 188.5,403.8 196.2,401.5 204.4,401.9 211.1,399.0 218.8,391.7 226.5,389.8 234.1,387.9 241.8,395.2 248.5,401.0 256.2,409.6 263.9,419.2 271.6,422.1 279.3,424.0 286.9,426.9 294.6,427.8 302.3,429.2 310.0,427.8 317.6,422.1 325.3,424.4 333.0,426.9 340.7,427.8 348.3,426.9 356.0,427.8 363.7,427.8 371.4,429.2 378.6,428.8 385.7,437.8 393.4,439.0 400.7,437.0 408.4,437.8 416.1,437.0 423.7,437.8 431.4,434.9 439.1,435.9 446.8,434.9 454.5,434.9 462.1,438.8 469.8,439.7 477.5,440.9 485.2,440.9 492.8,434.0 500.5,437.0 508.2,438.8 515.9,438.8 523.5,434.0 531.2,434.9 538.9,434.0 546.6,433.6 554.3,432.0 561.5,426.9 569.2,425.9 575.9,421.1 583.6,425.9 591.3,426.9 598.9,422.6 606.6,422.6 614.3,425.9 622.0,426.9 629.7,420.7 637.3,421.7 645.0,421.1 652.7,424.0 660.4,424.9 668.0,424.0 683.4,424.0 691.1,431.7 698.8,433.0 706.4,436.8 713.1,433.6 720.8,422.1 728.5,424.9 735.4,428.6 743.5,426.0 750.6,427.7 758.7,415.1 766.5,416.8 773.9,416.8 781.7,422.7 789.1,424.9 796.9,427.0 804.9,427.7 812.5,426.0 819.0,424.2 826.6,422.7 834.2,417.7 841.8,416.2 849.4,414.0 858.1,414.0 865.7,424.9 873.3,427.0 880.9,420.5 888.1,406.8 896.1,403.8 903.7,402.1 910.7,403.8 918.5,400.3 925.4,397.3 933.0,396.0" fill="none" stroke="#2266bb" stroke-width="1.3" stroke-linejoin="miter" stroke-miterlimit="3"/>
</g>
<text x="19.5" y="392" fill="#1a5fc0">RSI (14)</text>
<text x="946" y="434" fill="#5a5a5a">40.000</text>
<svg x="940" y="450" width="50" height="17"><text x="6" y="20" fill="#5a5a5a">0</text></svg>
<line x1="14" y1="483.5" x2="942" y2="483.5" stroke="#dddddd" stroke-width="1"/><line x1="14" y1="518.5" x2="942" y2="518.5" stroke="#dddddd" stroke-width="1"/><line x1="14" y1="552.5" x2="942" y2="552.5" stroke="#dddddd" stroke-width="1"/><line x1="105.5" y1="469" x2="105.5" y2="557" stroke="#dddddd" stroke-width="1"/><line x1="188.5" y1="469" x2="188.5" y2="557" stroke="#dddddd" stroke-width="1"/><line x1="272.5" y1="469" x2="272.5" y2="557" stroke="#dddddd" stroke-width="1"/><line x1="356.5" y1="469" x2="356.5" y2="557" stroke="#dddddd" stroke-width="1"/><line x1="439.5" y1="469" x2="439.5" y2="557" stroke="#dddddd" stroke-width="1"/><line x1="523.5" y1="469" x2="523.5" y2="557" stroke="#dddddd" stroke-width="1"/><line x1="607.5" y1="469" x2="607.5" y2="557" stroke="#dddddd" stroke-width="1"/><line x1="691.5" y1="469" x2="691.5" y2="557" stroke="#dddddd" stroke-width="1"/><line x1="774.5" y1="469" x2="774.5" y2="557" stroke="#dddddd" stroke-width="1"/><line x1="858.5" y1="469" x2="858.5" y2="557" stroke="#dddddd" stroke-width="1"/>
<rect x="14.5" y="469.5" width="927" height="87" fill="none" stroke="#dddddd" stroke-width="1"/>
<rect x="14" y="470" width="928" height="20.5" fill="rgba(255,0,0,0.15)"/>
<rect x="14" y="545.5" width="928" height="11.5" fill="rgba(0,120,0,0.15)"/>
<line x1="14" y1="490.5" x2="942" y2="490.5" stroke="#ee5555"/>
<line x1="14" y1="545.5" x2="942" y2="545.5" stroke="#66aa66"/>
<g clip-path="url(#cs)">
<polyline points="21.1,552.0 28.8,536.1 35.9,534.1 43.6,532.2 50.9,538.0 58.9,538.0 66.6,536.6 74.3,529.3 82.0,527.0 88.7,522.0 97.3,529.7 105.0,529.0 111.7,536.1 119.8,536.6 128.0,543.7 134.8,534.1 142.4,517.8 150.1,498.2 157.8,491.0 165.5,488.1 173.1,486.7 180.8,487.5 188.5,486.7 196.7,486.2 203.8,485.2 211.1,487.7 226.5,487.7 233.8,485.6 241.8,489.0 248.5,492.5 256.2,503.4 263.9,515.5 271.6,525.1 279.3,532.8 286.9,538.0 294.6,542.4 302.3,546.2 310.0,548.5 317.6,546.2 325.3,543.7 333.0,542.8 340.7,546.6 348.3,547.6 356.0,548.9 363.7,548.9 371.4,548.5 377.7,546.2 385.4,544.7 393.0,545.7 400.7,546.2 408.4,547.0 416.1,545.7 423.7,547.6 431.4,544.7 439.1,543.7 446.8,540.9 454.5,540.9 462.1,543.2 469.8,546.6 477.5,547.6 485.2,546.6 492.8,538.0 500.5,536.1 508.2,537.0 515.9,544.7 523.5,543.7 531.2,540.9 538.9,536.1 546.6,535.5 553.8,530.0 561.5,519.4 569.2,505.9 575.9,496.7 583.6,498.6 591.3,506.7 598.9,509.8 606.6,506.7 614.3,506.7 622.0,511.7 629.7,510.1 637.3,505.3 645.0,500.9 652.7,506.7 660.4,512.1 668.0,520.1 675.7,522.0 683.4,520.1 691.1,524.5 698.8,535.1 706.4,545.7 713.1,544.7 720.8,532.2 728.5,522.0 735.4,518.1 743.5,521.4 751.1,525.7 758.7,512.0 766.5,500.7 773.9,488.8 781.7,497.5 789.1,507.3 796.9,517.7 804.9,522.9 812.5,524.6 819.5,522.9 826.6,519.9 834.2,513.8 841.8,506.2 849.9,498.1 857.7,498.1 864.6,509.4 872.9,522.0 880.9,526.8 888.1,511.6 896.1,495.3 903.7,486.6 911.3,485.5 918.5,488.1 926.5,488.1 933.5,487.7" fill="none" stroke="#2266cc" stroke-width="1.3" stroke-linejoin="miter" stroke-miterlimit="3"/>
<polyline points="21.1,552.0 28.8,544.3 35.9,541.2 43.6,534.1 50.9,534.7 58.9,535.5 66.6,537.4 74.3,534.5 82.0,531.3 88.7,525.9 97.3,525.9 105.0,527.0 111.7,530.9 119.8,534.1 128.0,538.6 134.8,538.0 142.4,530.3 150.1,514.9 157.8,501.1 165.5,491.0 173.1,488.1 180.8,488.1 188.5,487.1 196.7,487.5 203.8,486.2 211.1,486.7 218.8,486.7 226.5,488.1 233.8,486.2 241.8,487.7 249.5,490.0 257.2,495.8 264.9,504.4 272.5,514.0 279.3,523.6 286.9,532.2 294.6,537.4 302.3,542.4 310.0,546.6 317.6,548.1 325.3,547.0 333.0,544.3 340.7,544.7 348.3,546.6 356.0,548.1 363.7,548.9 371.4,548.5 377.7,548.1 385.4,547.0 393.0,546.2 416.1,546.6 423.7,547.0 431.4,546.2 439.1,545.1 446.8,542.8 454.5,541.8 462.1,542.8 469.8,544.7 477.5,546.2 485.2,547.0 492.8,543.7 500.5,539.9 508.2,537.4 515.9,539.3 523.5,541.8 531.2,543.2 538.9,539.3 546.6,536.6 553.8,534.1 561.5,527.8 569.2,519.4 575.9,507.8 583.6,500.9 591.3,500.9 598.9,505.9 606.6,508.2 614.3,508.2 622.0,509.2 629.7,510.1 637.3,508.6 645.0,505.9 652.7,504.8 660.4,505.9 668.0,513.6 675.7,518.2 683.4,520.7 691.1,522.0 698.8,527.0 706.4,534.1 713.1,541.2 720.8,540.9 728.5,532.2 735.4,523.5 743.5,520.7 751.1,522.0 758.7,519.2 766.5,512.7 773.9,500.3 781.7,496.0 789.1,498.1 796.9,506.8 804.9,516.0 812.5,522.0 819.5,523.5 826.6,522.9 834.2,518.6 841.8,512.7 849.9,505.5 857.7,500.7 864.6,501.8 872.9,510.5 880.9,519.9 888.1,520.7 896.1,511.6 903.7,498.6 911.3,489.5 918.5,486.6 926.5,487.7 933.5,488.4" fill="none" stroke="#ff2222" stroke-width="1.3" stroke-linejoin="miter" stroke-miterlimit="3"/>
</g>
<text x="19.5" y="482" fill="#1a5fc0">STO (14, 3, 3)</text>
<text x="946" y="520" fill="#5a5a5a">50.000</text>
<text x="946" y="554" fill="#5a5a5a">0</text>
<text x="87.8" y="574" fill="#5a5a5a">02/2017</text>
<text x="170.8" y="574" fill="#5a5a5a">01/2018</text>
<text x="254.8" y="574" fill="#5a5a5a">12/2018</text>
<text x="338.8" y="574" fill="#5a5a5a">11/2019</text>
<text x="421.8" y="574" fill="#5a5a5a">10/2020</text>
<text x="505.8" y="574" fill="#5a5a5a">09/2021</text>
<text x="589.8" y="574" fill="#5a5a5a">08/2022</text>
<text x="673.8" y="574" fill="#5a5a5a">07/2023</text>
<text x="756.8" y="574" fill="#5a5a5a">06/2024</text>
<text x="840.8" y="574" fill="#5a5a5a">05/2025</text>
<rect x="943" y="52" width="47" height="17" fill="#008000"/>
<text x="946.5" y="65" fill="#fff" stroke="#fff" stroke-width="0.35">22.000</text>
<rect x="943" y="151" width="47" height="17" fill="#5f5f5f"/>
<text x="946.5" y="164" fill="#fff" stroke="#fff" stroke-width="0.35">14.750</text>
<rect x="943" y="258" width="47" height="17" fill="#c00000"/>
<text x="946.5" y="271" fill="#fff" stroke="#fff" stroke-width="0.35">6.900</text>
<rect x="943" y="348" width="47" height="17" fill="#00a000"/>
<text x="946.5" y="361" fill="#fff" stroke="#fff" stroke-width="0.35">320K</text>
<rect x="943" y="382" width="47" height="17" fill="#0055bb"/>
<text x="946.5" y="395" fill="#fff" stroke="#fff" stroke-width="0.35">80.27</text>
<rect x="943" y="474" width="47" height="17" fill="#0055bb"/><rect x="943" y="490" width="47" height="1" fill="#ff2222"/>
<text x="946.5" y="487" fill="#fff" stroke="#fff" stroke-width="0.35">92.89</text>
</svg></body></html>
